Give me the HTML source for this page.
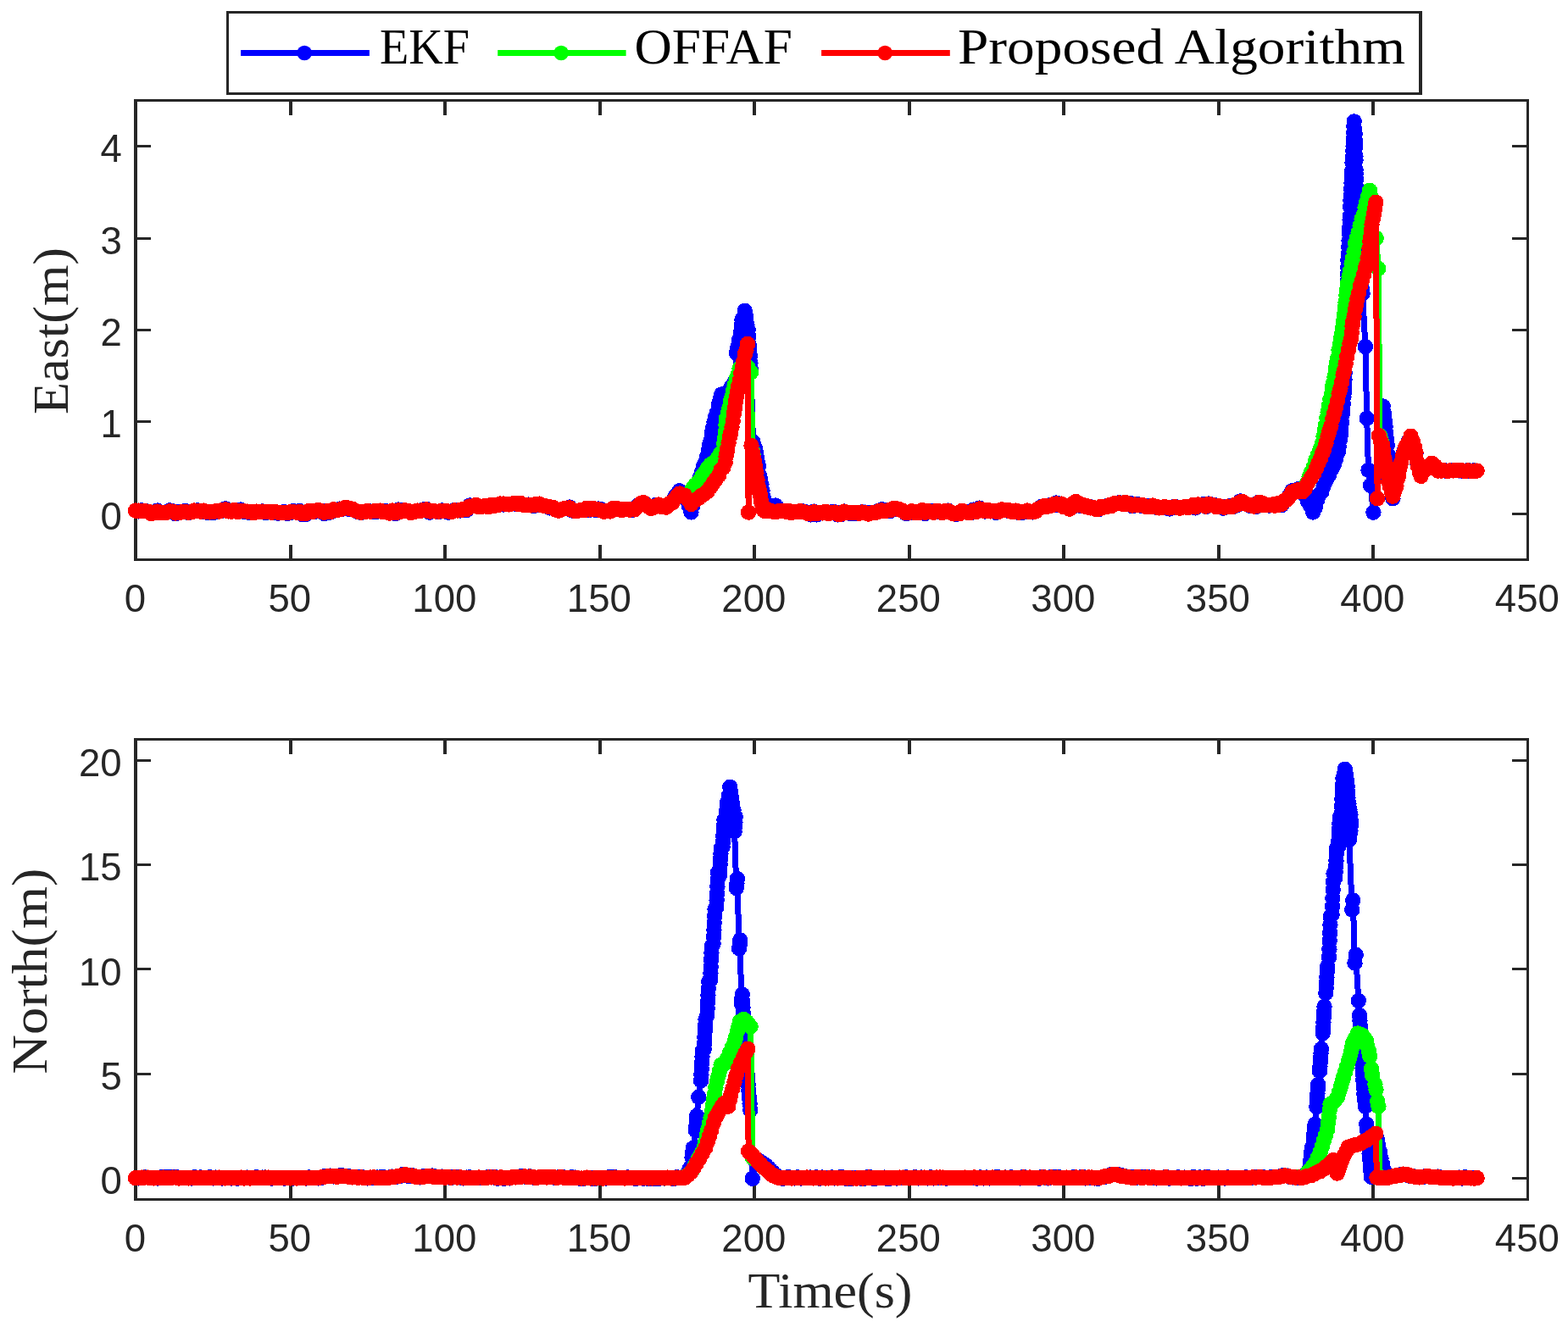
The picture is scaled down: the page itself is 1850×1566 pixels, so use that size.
<!DOCTYPE html>
<html lang="en">
<head>
<meta charset="utf-8">
<title>Position error comparison: EKF, OFFAF and Proposed Algorithm</title>
<style>
html,body{margin:0;padding:0;background:#ffffff;}
body{width:1850px;height:1566px;overflow:hidden;}
svg{display:block;}
.tk{font-family:"Liberation Sans",sans-serif;font-size:45.5px;fill:#262626;}
.lb{font-family:"Liberation Serif",serif;font-size:60px;fill:#262626;}
.lg{font-family:"Liberation Serif",serif;font-size:60px;fill:#000000;}
.ax{fill:#262626;}
.ln{fill:none;stroke-linejoin:round;stroke-linecap:butt;}
.mk{fill:none;stroke-linecap:round;}
</style>
</head>
<body>
<svg width="1850" height="1566" viewBox="0 0 1850 1566" role="img" aria-label="East and North position error over time for EKF, OFFAF and the Proposed Algorithm">
<rect x="0" y="0" width="1850" height="1566" fill="#ffffff"/>
<g id="axes-east">
<clipPath id="clipeast"><rect x="146" y="118.5" width="1670.5" height="542"/></clipPath>
<path class="ax" d="M158,117H1804V120H158ZM158,659H1804V662H158ZM158,117H162V662H158ZM1801,117H1804V662H1801ZM341,643H345V660.5H341ZM341,118.5H345V136H341ZM523,643H527V660.5H523ZM523,118.5H527V136H523ZM706,643H710V660.5H706ZM706,118.5H710V136H706ZM888,643H892V660.5H888ZM888,118.5H892V136H888ZM1071,643H1075V660.5H1071ZM1071,118.5H1075V136H1071ZM1253,643H1257V660.5H1253ZM1253,118.5H1257V136H1253ZM1436,643H1440V660.5H1436ZM1436,118.5H1440V136H1436ZM1618,643H1622V660.5H1618ZM1618,118.5H1622V136H1618ZM160,605H178V608H160ZM1784,605H1802.5V608H1784ZM160,496H178V499H160ZM1784,496H1802.5V499H1784ZM160,388H178V391H160ZM1784,388H1802.5V391H1784ZM160,280H178V283H160ZM1784,280H1802.5V283H1784ZM160,171H178V174H160ZM1784,171H1802.5V174H1784Z"/>
<text class="tk" x="159.3" y="721.8" text-anchor="middle">0</text><text class="tk" x="341.8" y="721.8" text-anchor="middle">50</text><text class="tk" x="524.3" y="721.8" text-anchor="middle">100</text><text class="tk" x="706.8" y="721.8" text-anchor="middle">150</text><text class="tk" x="889.3" y="721.8" text-anchor="middle">200</text><text class="tk" x="1071.8" y="721.8" text-anchor="middle">250</text><text class="tk" x="1254.3" y="721.8" text-anchor="middle">300</text><text class="tk" x="1436.8" y="721.8" text-anchor="middle">350</text><text class="tk" x="1619.3" y="721.8" text-anchor="middle">400</text><text class="tk" x="1801.8" y="721.8" text-anchor="middle">450</text>
<text class="tk" x="143.7" y="624.8" text-anchor="end">0</text><text class="tk" x="143.7" y="516.4" text-anchor="end">1</text><text class="tk" x="143.7" y="408" text-anchor="end">2</text><text class="tk" x="143.7" y="299.6" text-anchor="end">3</text><text class="tk" x="143.7" y="191.2" text-anchor="end">4</text>
<g clip-path="url(#clipeast)">
<g stroke="#0000ff" shape-rendering="crispEdges">
<polyline class="ln" stroke-width="7" points="160,602.6 163.7,603.4 167.3,602.3 170.9,603 174.6,603.6 178.2,605.8 181.9,605.2 185.6,602.5 189.2,605 192.8,604.9 196.5,604.7 200.2,602.3 203.8,603.2 207.4,606.3 211.1,604.1 214.8,604.1 218.4,603.1 222.1,604.9 225.7,604.4 229.3,603.5 233,602.4 236.7,603.7 240.3,602.6 243.9,604.6 247.6,605 251.2,605.2 254.9,603.6 258.6,603.5 262.2,602.6 265.9,600.3 269.5,603.2 273.1,603.5 276.8,602 280.4,603.1 284.1,601.5 287.8,603.8 291.4,603.6 295.1,605.1 298.7,604.8 302.4,603.6 306,604.1 309.6,603.4 313.3,605.1 316.9,604 320.6,603.8 324.2,605.1 327.9,605.7 331.6,605.2 335.2,604.1 338.9,605.9 342.5,605 346.1,603.1 349.8,604.7 353.4,603.1 357.1,607.2 360.8,607.1 364.4,604 368.1,604.1 371.7,603.8 375.4,603.2 379,602.7 382.6,606 386.3,603 389.9,604.6 393.6,601.9 397.2,602 400.9,600.6 404.6,600.5 408.2,598.7 411.9,600.8 415.5,600.6 419.1,602.5 422.8,604.3 426.4,604.9 430.1,604.1 433.8,603 437.4,603.5 441.1,604.3 444.7,603.8 448.4,603.2 452,604.1 455.6,603.3 459.3,604.6 462.9,603.6 466.6,606.2 470.2,601.5 473.9,603.6 477.6,603.3 481.2,603.4 484.9,603.9 488.5,603.7 492.1,603.1 495.8,603 499.4,601.5 503.1,601 506.8,604.6 510.4,603.3 514,603.5 517.7,604.1 521.4,602.4 525,603 528.6,604.7 532.3,603.9 536,602.1 539.6,602.5 543.2,602.5 546.9,600.7 550.5,601.9 554.2,596.4 557.9,597.4 561.5,596.9 565.1,598 568.8,597.8 572.5,597.1 576.1,597.5 579.8,596.7 583.4,596.4 587,596 590.4,595.5 593.8,595.5 597.1,595.1 600.5,595.2 603.8,594.6 607.1,594.5 610.3,595.2 613.5,593.7 616.7,595.6 619.9,596 623.2,595.6 626.5,596.3 629.8,597.1 633,595.1 636.3,594.6 639.4,596.2 642.4,597 645.5,597.6 648.9,599.4 652.3,599.7 655.7,601.7 659,601.8 662.2,601.3 665.5,600.3 668.8,599.6 672,598.6 675.2,602.6 678.4,603.1 681.6,602.7 685.1,602 688.6,601.9 692.1,600.2 695.6,601.8 699.1,599.8 702.5,601.7 706,600.6 709.4,601.3 712.8,603.2 716.3,602.7 719.9,603.4 723.6,600.2 727.2,599.8 730.4,601.3 733.5,601.5 736.7,600.9 739.7,600.7 742.7,601.6 745.7,601.7 748.7,601.4 752.3,596.6 755.8,595.2 759.3,593.1 762.2,595.4 765.2,597.8 768.1,599.8 771,598.1 773.9,596 776.9,595.5 779.8,597.5 782.7,597.3 785.6,598.7 788.2,596.1 790.7,594 793.3,593.3 796.1,586.8 798.9,583.2 801.7,579.2 804.8,583.1 807.9,584.6 810.4,590.4 813,597 815.5,604.5 817.2,596.9 818.9,592.5 820.6,584.6 822.5,576.9 824.3,571.6 826.1,563 828,557.5 830,550.4 832,546.1 834,539.2 836,531.5 837.3,524.7 838.6,520 839.9,510.7 841.2,504.3 842.5,497.9 844.3,491.6 846.1,486.7 847.8,477.8 849.6,471.4 851.3,465.4 853.7,464.9 856.1,465.4 859.3,461.8 862.6,456.7 865,454.9 867.4,449.1 868.8,416.6 870.4,409.5 872,401.3 873.6,397.1 874.2,391.7 874.8,383.6 875.4,377.6 877,374.7 878.7,366.7 880,374 881.4,383.3 882.7,389.5 883.2,397 883.8,407.2 884.3,411 884.9,420 885.4,428.5 886,436.1 888.5,521.7 890.7,528.3 891.7,533 892.7,539.3 893.6,544.5 894.9,550.5 896.1,561.5 897.3,566.2 898.4,571.7 899.5,579.1 900.6,586 901.7,591.1 903.1,594.6 904.6,599.8 907.3,599.8 910.1,600.9 912.4,597.3 914.8,596.5 917,598.9 919.2,603 922.9,602.7 926.5,603.6 930.1,603 933.6,604.3 937.2,604.3 940.7,604.1 944,603.1 947.2,603.3 950.5,604.3 953.7,606.1 956.9,607.4 960.2,603.6 963.4,607.4 966.6,605 970.3,604.6 974,604.8 977.6,605.5 981.2,604.3 984.9,604.3 988.5,607.5 992.2,607.1 995.9,603.5 999.5,605 1003,605.8 1006.6,605 1010.1,606.1 1013.6,605.1 1017.1,604.4 1020.7,604.6 1024.2,606.5 1027.7,604.9 1031.3,605 1034.3,604.5 1037.3,602.4 1040.3,601.2 1043.3,603 1047,602.3 1050.6,602.9 1054.2,600 1057.9,601.1 1061.5,601.2 1065.2,603 1068.7,605.8 1072.1,605.5 1075.6,603.8 1079.1,605 1082.1,605.1 1085.2,604.3 1088.3,603 1091.3,606 1094.4,603 1097.9,603.1 1101.5,603.5 1105,603 1108.4,603.9 1111.8,604.5 1115.3,603.6 1118.7,602.6 1122.1,605 1125.4,605.5 1128.6,606.8 1131.8,606.3 1135,603.5 1138.2,604.1 1141.7,603.8 1145.1,605.1 1148.6,601.6 1152.1,603.9 1155.5,599.6 1159,601.4 1162.3,603.5 1165.6,602.2 1168.9,603.1 1172.1,603 1175.4,604.9 1178.6,602.9 1181.8,601.4 1185,602.1 1188.3,602.5 1191.5,602.5 1194.9,604.3 1198.4,602.6 1201.8,604.9 1205.2,605.2 1208.6,603.6 1211.9,603.3 1215.2,604.3 1218.5,604.5 1221.8,603.6 1225.3,600.2 1228.8,597.9 1232.4,596.8 1235,597.4 1237.7,596.4 1240.4,596.5 1243.3,595.4 1246.2,593.5 1249.2,596.3 1252.1,594.6 1255.2,598.1 1258.4,598.5 1261.6,600.7 1264.1,599.2 1266.7,594.3 1269.2,592 1271.8,595 1274.3,596.7 1276.9,595.5 1280.1,597.6 1283.3,598.4 1286.5,598.3 1289.7,599.1 1293,600.9 1296,601.1 1299.1,598.6 1302.2,598.3 1305.2,597.2 1308.3,596.3 1311.2,595.9 1314.1,594.9 1317,594.4 1320.6,593.2 1324.1,594.6 1327.6,592.9 1330.5,595 1333.3,594 1336.1,597.2 1339,595.5 1342.1,595.2 1345.2,596.6 1348.3,597 1351.4,597.8 1354.3,597.1 1357.2,597.2 1360.1,596.5 1363.8,598.7 1367.4,598.6 1371.1,598.9 1374,598.8 1376.9,599.5 1379.8,600.5 1382.8,598.7 1385.8,597.8 1388.8,598.4 1391.8,599.6 1394.8,598.7 1398.1,598.1 1401.4,598.8 1404.7,597.6 1407.6,596.8 1410.5,599.3 1413.4,595.5 1416.3,596.3 1419.6,595.3 1422.9,597.9 1426.2,594.5 1429.5,596 1432.1,595.9 1434.8,597.4 1437.5,597.1 1440.3,597.8 1443.2,599.7 1446,598.2 1448.8,597.6 1451.7,597.1 1454.7,598 1457.6,595.5 1460.4,595.9 1463.2,591.4 1466,592.2 1469.1,594.5 1472.2,595.5 1475.6,597.1 1479.1,597.6 1482,597.8 1485,592.8 1487.9,593.3 1491,595.2 1494.1,595.5 1497.4,596.6 1500.6,595.5 1503.6,596.7 1506.5,595.6 1509.4,595.7 1512.2,596 1515,591.5 1517.8,590 1521.1,585.1 1524.4,579.2 1527,579.6 1529.7,578.8 1532.4,577 1536,580.1 1539.7,584.6 1542.9,591.3 1546,596.8 1549.2,604.5 1551.7,599.1 1554.3,590 1556.7,583.5 1559.2,580.8 1561.6,573.8 1564.9,566.5 1568.2,560.2 1571.5,553.2 1573.9,548.4 1576.3,541.1 1578.8,533.7 1579.7,527.4 1580.7,519.9 1581.7,514.2 1582.3,507.6 1583,498.6 1583.6,489.1 1584.2,483.8 1584.8,477 1585.4,468.3 1586.1,462.1 1586.3,455.6 1586.5,447.6 1586.7,439.8 1587,429.9 1587.2,422.8 1587.4,415.9 1587.7,409.1 1587.9,400.3 1588.1,392.5 1588.3,383.6 1588.5,377.7 1588.7,369.1 1588.9,360.6 1589.2,354.8 1589.4,345.9 1589.6,339.4 1589.8,331.8 1590,323.5 1590.2,315.4 1590.4,307.1 1590.8,300.1 1591.2,291.6 1591.5,284.3 1591.9,275.2 1592.3,268.5 1592.6,259.4 1592.9,254.9 1593.2,243.9 1593.5,236.6 1593.8,231 1594.1,223.2 1594.5,216.1 1594.8,208.3 1595.2,201.3 1595.5,191.9 1595.9,185.7 1596.3,178.1 1596.6,172.2 1596.9,164 1597.2,156.6 1597.4,149 1597.7,143.4 1598.2,153.2 1598.7,157.8 1599.2,167.3 1599.3,173.5 1599.4,184.3 1599.5,188.7 1599.6,200.1 1599.7,205.2 1600,211.6 1600.2,221 1600.4,229.6 1600.7,235.2 1600.9,244.3 1601.2,251.4 1601.4,259.4 1601.8,266.1 1602.2,274.1 1602.7,280.5 1603.1,287.1 1603.5,294.9 1603.9,302.8 1604.5,310.2 1605.2,317.1 1605.8,322 1606.4,329.5 1607,341.1 1607.6,346.1 1610.9,409 1612.7,493.6 1614.5,554.8 1617.1,572.7 1620.4,604.7 1625.5,562.9 1631.7,479.5 1632.4,485.8 1633.1,490.1 1633.9,497.3 1634.6,503.3 1635.3,511.3 1636.1,518.2 1636.8,525.7 1637.5,536.4 1638.2,541.3 1639.1,548.4 1640,557.7 1640.8,564.2 1641.7,572.6 1642.5,579.3 1643.4,588.3 1645.4,579.3 1647.4,573.8 1648.7,564.8 1650.1,561.6 1651.5,551.9 1652.8,546.7 1654.7,538.3 1656.5,532.6 1658.3,527.2 1661.4,521.4 1664.5,514.7 1666.9,521 1669.3,528.3 1670.5,534.6 1671.7,544.6 1672.9,549.9 1674.8,557.2 1676.6,561.9 1679.3,556.5 1682,554.3 1685.7,549.8 1689.3,546.7 1693,550.2 1696.7,555.6 1700.2,555.5 1703.7,555.1 1707.3,556 1710.8,555.4 1714.3,555.2 1717.9,555.1 1721.4,555.4 1725,555.6 1728.5,555.8 1732,555.2 1735.6,556 1739.1,555.4 1742.6,555.6"/>
<path class="mk" stroke-width="18.4" d="M160,602.6h0M163.7,603.4h0M167.3,602.3h0M170.9,603h0M174.6,603.6h0M178.2,605.8h0M181.9,605.2h0M185.6,602.5h0M189.2,605h0M192.8,604.9h0M196.5,604.7h0M200.2,602.3h0M203.8,603.2h0M207.4,606.3h0M211.1,604.1h0M214.8,604.1h0M218.4,603.1h0M222.1,604.9h0M225.7,604.4h0M229.3,603.5h0M233,602.4h0M236.7,603.7h0M240.3,602.6h0M243.9,604.6h0M247.6,605h0M251.2,605.2h0M254.9,603.6h0M258.6,603.5h0M262.2,602.6h0M265.9,600.3h0M269.5,603.2h0M273.1,603.5h0M276.8,602h0M280.4,603.1h0M284.1,601.5h0M287.8,603.8h0M291.4,603.6h0M295.1,605.1h0M298.7,604.8h0M302.4,603.6h0M306,604.1h0M309.6,603.4h0M313.3,605.1h0M316.9,604h0M320.6,603.8h0M324.2,605.1h0M327.9,605.7h0M331.6,605.2h0M335.2,604.1h0M338.9,605.9h0M342.5,605h0M346.1,603.1h0M349.8,604.7h0M353.4,603.1h0M357.1,607.2h0M360.8,607.1h0M364.4,604h0M368.1,604.1h0M371.7,603.8h0M375.4,603.2h0M379,602.7h0M382.6,606h0M386.3,603h0M389.9,604.6h0M393.6,601.9h0M397.2,602h0M400.9,600.6h0M404.6,600.5h0M408.2,598.7h0M411.9,600.8h0M415.5,600.6h0M419.1,602.5h0M422.8,604.3h0M426.4,604.9h0M430.1,604.1h0M433.8,603h0M437.4,603.5h0M441.1,604.3h0M444.7,603.8h0M448.4,603.2h0M452,604.1h0M455.6,603.3h0M459.3,604.6h0M462.9,603.6h0M466.6,606.2h0M470.2,601.5h0M473.9,603.6h0M477.6,603.3h0M481.2,603.4h0M484.9,603.9h0M488.5,603.7h0M492.1,603.1h0M495.8,603h0M499.4,601.5h0M503.1,601h0M506.8,604.6h0M510.4,603.3h0M514,603.5h0M517.7,604.1h0M521.4,602.4h0M525,603h0M528.6,604.7h0M532.3,603.9h0M536,602.1h0M539.6,602.5h0M543.2,602.5h0M546.9,600.7h0M550.5,601.9h0M554.2,596.4h0M557.9,597.4h0M561.5,596.9h0M565.1,598h0M568.8,597.8h0M572.5,597.1h0M576.1,597.5h0M579.8,596.7h0M583.4,596.4h0M587,596h0M590.4,595.5h0M593.8,595.5h0M597.1,595.1h0M600.5,595.2h0M603.8,594.6h0M607.1,594.5h0M610.3,595.2h0M613.5,593.7h0M616.7,595.6h0M619.9,596h0M623.2,595.6h0M626.5,596.3h0M629.8,597.1h0M633,595.1h0M636.3,594.6h0M639.4,596.2h0M642.4,597h0M645.5,597.6h0M648.9,599.4h0M652.3,599.7h0M655.7,601.7h0M659,601.8h0M662.2,601.3h0M665.5,600.3h0M668.8,599.6h0M672,598.6h0M675.2,602.6h0M678.4,603.1h0M681.6,602.7h0M685.1,602h0M688.6,601.9h0M692.1,600.2h0M695.6,601.8h0M699.1,599.8h0M702.5,601.7h0M706,600.6h0M709.4,601.3h0M712.8,603.2h0M716.3,602.7h0M719.9,603.4h0M723.6,600.2h0M727.2,599.8h0M730.4,601.3h0M733.5,601.5h0M736.7,600.9h0M739.7,600.7h0M742.7,601.6h0M745.7,601.7h0M748.7,601.4h0M752.3,596.6h0M755.8,595.2h0M759.3,593.1h0M762.2,595.4h0M765.2,597.8h0M768.1,599.8h0M771,598.1h0M773.9,596h0M776.9,595.5h0M779.8,597.5h0M782.7,597.3h0M785.6,598.7h0M788.2,596.1h0M790.7,594h0M793.3,593.3h0M796.1,586.8h0M798.9,583.2h0M801.7,579.2h0M804.8,583.1h0M807.9,584.6h0M810.4,590.4h0M813,597h0M815.5,604.5h0M817.2,596.9h0M818.9,592.5h0M820.6,584.6h0M822.5,576.9h0M824.3,571.6h0M826.1,563h0M828,557.5h0M830,550.4h0M832,546.1h0M834,539.2h0M836,531.5h0M837.3,524.7h0M838.6,520h0M839.9,510.7h0M841.2,504.3h0M842.5,497.9h0M844.3,491.6h0M846.1,486.7h0M847.8,477.8h0M849.6,471.4h0M851.3,465.4h0M853.7,464.9h0M856.1,465.4h0M859.3,461.8h0M862.6,456.7h0M865,454.9h0M867.4,449.1h0M868.8,416.6h0M870.4,409.5h0M872,401.3h0M873.6,397.1h0M874.2,391.7h0M874.8,383.6h0M875.4,377.6h0M877,374.7h0M878.7,366.7h0M880,374h0M881.4,383.3h0M882.7,389.5h0M883.2,397h0M883.8,407.2h0M884.3,411h0M884.9,420h0M885.4,428.5h0M886,436.1h0M888.5,521.7h0M890.7,528.3h0M891.7,533h0M892.7,539.3h0M893.6,544.5h0M894.9,550.5h0M896.1,561.5h0M897.3,566.2h0M898.4,571.7h0M899.5,579.1h0M900.6,586h0M901.7,591.1h0M903.1,594.6h0M904.6,599.8h0M907.3,599.8h0M910.1,600.9h0M912.4,597.3h0M914.8,596.5h0M917,598.9h0M919.2,603h0M922.9,602.7h0M926.5,603.6h0M930.1,603h0M933.6,604.3h0M937.2,604.3h0M940.7,604.1h0M944,603.1h0M947.2,603.3h0M950.5,604.3h0M953.7,606.1h0M956.9,607.4h0M960.2,603.6h0M963.4,607.4h0M966.6,605h0M970.3,604.6h0M974,604.8h0M977.6,605.5h0M981.2,604.3h0M984.9,604.3h0M988.5,607.5h0M992.2,607.1h0M995.9,603.5h0M999.5,605h0M1003,605.8h0M1006.6,605h0M1010.1,606.1h0M1013.6,605.1h0M1017.1,604.4h0M1020.7,604.6h0M1024.2,606.5h0M1027.7,604.9h0M1031.3,605h0M1034.3,604.5h0M1037.3,602.4h0M1040.3,601.2h0M1043.3,603h0M1047,602.3h0M1050.6,602.9h0M1054.2,600h0M1057.9,601.1h0M1061.5,601.2h0M1065.2,603h0M1068.7,605.8h0M1072.1,605.5h0M1075.6,603.8h0M1079.1,605h0M1082.1,605.1h0M1085.2,604.3h0M1088.3,603h0M1091.3,606h0M1094.4,603h0M1097.9,603.1h0M1101.5,603.5h0M1105,603h0M1108.4,603.9h0M1111.8,604.5h0M1115.3,603.6h0M1118.7,602.6h0M1122.1,605h0M1125.4,605.5h0M1128.6,606.8h0M1131.8,606.3h0M1135,603.5h0M1138.2,604.1h0M1141.7,603.8h0M1145.1,605.1h0M1148.6,601.6h0M1152.1,603.9h0M1155.5,599.6h0M1159,601.4h0M1162.3,603.5h0M1165.6,602.2h0M1168.9,603.1h0M1172.1,603h0M1175.4,604.9h0M1178.6,602.9h0M1181.8,601.4h0M1185,602.1h0M1188.3,602.5h0M1191.5,602.5h0M1194.9,604.3h0M1198.4,602.6h0M1201.8,604.9h0M1205.2,605.2h0M1208.6,603.6h0M1211.9,603.3h0M1215.2,604.3h0M1218.5,604.5h0M1221.8,603.6h0M1225.3,600.2h0M1228.8,597.9h0M1232.4,596.8h0M1235,597.4h0M1237.7,596.4h0M1240.4,596.5h0M1243.3,595.4h0M1246.2,593.5h0M1249.2,596.3h0M1252.1,594.6h0M1255.2,598.1h0M1258.4,598.5h0M1261.6,600.7h0M1264.1,599.2h0M1266.7,594.3h0M1269.2,592h0M1271.8,595h0M1274.3,596.7h0M1276.9,595.5h0M1280.1,597.6h0M1283.3,598.4h0M1286.5,598.3h0M1289.7,599.1h0M1293,600.9h0M1296,601.1h0M1299.1,598.6h0M1302.2,598.3h0M1305.2,597.2h0M1308.3,596.3h0M1311.2,595.9h0M1314.1,594.9h0M1317,594.4h0M1320.6,593.2h0M1324.1,594.6h0M1327.6,592.9h0M1330.5,595h0M1333.3,594h0M1336.1,597.2h0M1339,595.5h0M1342.1,595.2h0M1345.2,596.6h0M1348.3,597h0M1351.4,597.8h0M1354.3,597.1h0M1357.2,597.2h0M1360.1,596.5h0M1363.8,598.7h0M1367.4,598.6h0M1371.1,598.9h0M1374,598.8h0M1376.9,599.5h0M1379.8,600.5h0M1382.8,598.7h0M1385.8,597.8h0M1388.8,598.4h0M1391.8,599.6h0M1394.8,598.7h0M1398.1,598.1h0M1401.4,598.8h0M1404.7,597.6h0M1407.6,596.8h0M1410.5,599.3h0M1413.4,595.5h0M1416.3,596.3h0M1419.6,595.3h0M1422.9,597.9h0M1426.2,594.5h0M1429.5,596h0M1432.1,595.9h0M1434.8,597.4h0M1437.5,597.1h0M1440.3,597.8h0M1443.2,599.7h0M1446,598.2h0M1448.8,597.6h0M1451.7,597.1h0M1454.7,598h0M1457.6,595.5h0M1460.4,595.9h0M1463.2,591.4h0M1466,592.2h0M1469.1,594.5h0M1472.2,595.5h0M1475.6,597.1h0M1479.1,597.6h0M1482,597.8h0M1485,592.8h0M1487.9,593.3h0M1491,595.2h0M1494.1,595.5h0M1497.4,596.6h0M1500.6,595.5h0M1503.6,596.7h0M1506.5,595.6h0M1509.4,595.7h0M1512.2,596h0M1515,591.5h0M1517.8,590h0M1521.1,585.1h0M1524.4,579.2h0M1527,579.6h0M1529.7,578.8h0M1532.4,577h0M1536,580.1h0M1539.7,584.6h0M1542.9,591.3h0M1546,596.8h0M1549.2,604.5h0M1551.7,599.1h0M1554.3,590h0M1556.7,583.5h0M1559.2,580.8h0M1561.6,573.8h0M1564.9,566.5h0M1568.2,560.2h0M1571.5,553.2h0M1573.9,548.4h0M1576.3,541.1h0M1578.8,533.7h0M1579.7,527.4h0M1580.7,519.9h0M1581.7,514.2h0M1582.3,507.6h0M1583,498.6h0M1583.6,489.1h0M1584.2,483.8h0M1584.8,477h0M1585.4,468.3h0M1586.1,462.1h0M1586.3,455.6h0M1586.5,447.6h0M1586.7,439.8h0M1587,429.9h0M1587.2,422.8h0M1587.4,415.9h0M1587.7,409.1h0M1587.9,400.3h0M1588.1,392.5h0M1588.3,383.6h0M1588.5,377.7h0M1588.7,369.1h0M1588.9,360.6h0M1589.2,354.8h0M1589.4,345.9h0M1589.6,339.4h0M1589.8,331.8h0M1590,323.5h0M1590.2,315.4h0M1590.4,307.1h0M1590.8,300.1h0M1591.2,291.6h0M1591.5,284.3h0M1591.9,275.2h0M1592.3,268.5h0M1592.6,259.4h0M1592.9,254.9h0M1593.2,243.9h0M1593.5,236.6h0M1593.8,231h0M1594.1,223.2h0M1594.5,216.1h0M1594.8,208.3h0M1595.2,201.3h0M1595.5,191.9h0M1595.9,185.7h0M1596.3,178.1h0M1596.6,172.2h0M1596.9,164h0M1597.2,156.6h0M1597.4,149h0M1597.7,143.4h0M1598.2,153.2h0M1598.7,157.8h0M1599.2,167.3h0M1599.3,173.5h0M1599.4,184.3h0M1599.5,188.7h0M1599.6,200.1h0M1599.7,205.2h0M1600,211.6h0M1600.2,221h0M1600.4,229.6h0M1600.7,235.2h0M1600.9,244.3h0M1601.2,251.4h0M1601.4,259.4h0M1601.8,266.1h0M1602.2,274.1h0M1602.7,280.5h0M1603.1,287.1h0M1603.5,294.9h0M1603.9,302.8h0M1604.5,310.2h0M1605.2,317.1h0M1605.8,322h0M1606.4,329.5h0M1607,341.1h0M1607.6,346.1h0M1610.9,409h0M1612.7,493.6h0M1614.5,554.8h0M1617.1,572.7h0M1620.4,604.7h0M1625.5,562.9h0M1631.7,479.5h0M1632.4,485.8h0M1633.1,490.1h0M1633.9,497.3h0M1634.6,503.3h0M1635.3,511.3h0M1636.1,518.2h0M1636.8,525.7h0M1637.5,536.4h0M1638.2,541.3h0M1639.1,548.4h0M1640,557.7h0M1640.8,564.2h0M1641.7,572.6h0M1642.5,579.3h0M1643.4,588.3h0M1645.4,579.3h0M1647.4,573.8h0M1648.7,564.8h0M1650.1,561.6h0M1651.5,551.9h0M1652.8,546.7h0M1654.7,538.3h0M1656.5,532.6h0M1658.3,527.2h0M1661.4,521.4h0M1664.5,514.7h0M1666.9,521h0M1669.3,528.3h0M1670.5,534.6h0M1671.7,544.6h0M1672.9,549.9h0M1674.8,557.2h0M1676.6,561.9h0M1679.3,556.5h0M1682,554.3h0M1685.7,549.8h0M1689.3,546.7h0M1693,550.2h0M1696.7,555.6h0M1700.2,555.5h0M1703.7,555.1h0M1707.3,556h0M1710.8,555.4h0M1714.3,555.2h0M1717.9,555.1h0M1721.4,555.4h0M1725,555.6h0M1728.5,555.8h0M1732,555.2h0M1735.6,556h0M1739.1,555.4h0M1742.6,555.6h0"/>
</g>
<g stroke="#00ff00" shape-rendering="crispEdges">
<polyline class="ln" stroke-width="7" points="160,602.6 163.7,602.6 167.3,602.9 170.9,603 174.6,603.7 178.2,606 181.9,605.2 185.6,603.6 189.2,605 192.8,605.2 196.5,604.7 200.2,603.3 203.8,603.6 207.4,605.5 211.1,605.1 214.8,604.1 218.4,603.9 222.1,604.7 225.7,604.4 229.3,602.5 233,603.2 236.7,603.7 240.3,602.6 243.9,604 247.6,604.4 251.2,604 254.9,603.1 258.6,603.5 262.2,602.1 265.9,601.3 269.5,603.4 273.1,603.7 276.8,602 280.4,604 284.1,602.7 287.8,603.3 291.4,603.6 295.1,604.2 298.7,605.2 302.4,603.6 306,604.1 309.6,603.6 313.3,604.3 316.9,603.8 320.6,604.8 324.2,603.9 327.9,604.7 331.6,605.2 335.2,605.2 338.9,605.1 342.5,604.2 346.1,604.1 349.8,604.7 353.4,603.8 357.1,606.1 360.8,606 364.4,603 368.1,604.1 371.7,602.7 375.4,602.1 379,603.1 382.6,604.8 386.3,603 389.9,604 393.6,601.2 397.2,602 400.9,601.4 404.6,600.2 408.2,598.7 411.9,599.8 415.5,600.7 419.1,602.5 422.8,603.9 426.4,604.7 430.1,604.1 433.8,603 437.4,603.7 441.1,603.3 444.7,602.9 448.4,602.6 452,604.1 455.6,604.1 459.3,605.6 462.9,602.5 466.6,605.3 470.2,602.3 473.9,603.6 477.6,602.3 481.2,602.9 484.9,605 488.5,604.2 492.1,602.6 495.8,603 499.4,602 503.1,601.4 506.8,603.5 510.4,603.3 514,603.5 517.7,603.6 521.4,603.1 525,603 528.6,603.5 532.3,604.3 536,602.4 539.6,602.5 543.2,602.1 546.9,600.8 550.5,600.9 554.2,597.5 557.9,597.4 561.5,595.9 565.1,598.2 568.8,597.8 572.5,597.1 576.1,598.3 579.8,595.7 583.4,596.8 587,596 590.4,594.5 593.8,594.5 597.1,594.9 600.5,595.3 603.8,594.6 607.1,594 610.3,594.7 613.5,593.7 616.7,595.7 619.9,596 623.2,595.9 626.5,596.5 629.8,596.3 633,594.7 636.3,594.6 639.4,596.3 642.4,597 645.5,597.6 648.9,598.3 652.3,598.7 655.7,601.7 659,602.7 662.2,601.2 665.5,600.3 668.8,599.6 672,599.3 675.2,601.8 678.4,603.1 681.6,602.7 685.1,602.2 688.6,602.3 692.1,599.7 695.6,601.4 699.1,599.8 702.5,600.8 706,601.4 709.4,602.4 712.8,603.8 716.3,602.7 719.9,603.5 723.6,599.7 727.2,599.8 730.4,601.3 733.5,602 736.7,600.9 739.7,601 742.7,601.7 745.7,601.2 748.7,601.4 752.3,597.7 755.8,594.2 759.3,593.1 762.2,595.8 765.2,597.7 768.1,599.8 771,598.9 773.9,597.1 776.9,595.5 779.8,597.8 782.7,598.1 785.6,598.7 788.2,596.5 790.7,593.6 793.3,593.3 796.1,588.9 798.9,585.4 801.7,582.5 804.8,584.9 807.9,584.6 811.5,584.6 814.3,582.2 817,577 820,572.7 823,570 826,566.5 829,560.8 832.1,557.1 835.1,552.2 838.2,548.3 840.8,546.8 843.5,545 846.2,541.3 849.9,535.6 853.5,531.5 854.2,523.3 855,518 855.7,509.6 856.4,501.5 857.1,493.6 858.7,487.7 860.3,482 861.9,474.1 863.5,468.5 865.1,461.4 866.6,454.5 868.6,447.4 870.5,442.6 872.5,435 875.8,432.9 879,430.7 882.5,433.5 886,439.4 888,532.6 889,538.4 890,544.5 891.2,550.5 892.4,558.1 893.6,566.2 894.7,574 895.8,578.8 896.9,583.9 898,591.1 899.5,596.5 901,602 903.3,603.3 905.7,603 908.8,602.4 911.9,603.6 915.5,604 919.2,603 922.9,603.1 926.5,603.6 930.1,603 933.6,605.2 937.2,604 940.7,604.1 944,603.2 947.2,604 950.5,604.8 953.7,606 956.9,606.4 960.2,604.2 963.4,606.3 966.6,605 970.3,605.4 974,603.9 977.6,606.1 981.2,605.2 984.9,604.6 988.5,606.7 992.2,606.7 995.9,603.6 999.5,605 1003,604.7 1006.6,604.7 1010.1,605.2 1013.6,605.8 1017.1,604.5 1020.7,605.2 1024.2,606.6 1027.7,605.6 1031.3,605 1034.3,604.6 1037.3,602.9 1040.3,602.3 1043.3,603 1047,602.5 1050.6,602.1 1054.2,600 1057.9,600.3 1061.5,601.3 1065.2,603 1068.7,605.3 1072.1,604.8 1075.6,603.2 1079.1,605 1082.1,604.2 1085.2,604.9 1088.3,602.1 1091.3,604.8 1094.4,603 1097.9,604.3 1101.5,604.7 1105,603 1108.4,603.4 1111.8,605 1115.3,603.1 1118.7,603.1 1122.1,605 1125.4,606.4 1128.6,605.9 1131.8,606.2 1135,602.9 1138.2,604.1 1141.7,604.9 1145.1,604.8 1148.6,602.6 1152.1,603.8 1155.5,600.4 1159,601.4 1162.3,603.2 1165.6,601.8 1168.9,603.4 1172.1,603 1175.4,603.8 1178.6,603.8 1181.8,601.3 1185,602.2 1188.3,602.4 1191.5,602.5 1194.9,604.3 1198.4,602.6 1201.8,604.7 1205.2,604.3 1208.6,603.6 1211.9,602.5 1215.2,604.2 1218.5,604.1 1221.8,603.6 1225.3,600.4 1228.8,598.6 1232.4,596.8 1235,597.9 1237.7,597.4 1240.4,596.5 1243.3,595.1 1246.2,594.4 1249.2,595.4 1252.1,594.6 1255.2,598.3 1258.4,598.8 1261.6,600.7 1264.1,598.5 1266.7,593.7 1269.2,592 1271.8,594 1274.3,596 1276.9,595.5 1280.1,597.8 1283.3,597.4 1286.5,599.4 1289.7,598.9 1293,600.9 1296,600.7 1299.1,597.7 1302.2,598.6 1305.2,598.1 1308.3,596.3 1311.2,597 1314.1,594.4 1317,594.4 1320.6,593.4 1324.1,594.8 1327.6,592.9 1330.5,594.9 1333.3,595.1 1336.1,596.5 1339,595.5 1342.1,595.8 1345.2,596 1348.3,596.2 1351.4,597.8 1354.3,598.1 1357.2,598.2 1360.1,596.5 1363.8,597.8 1367.4,599.4 1371.1,598.9 1374,598.1 1376.9,598.6 1379.8,599.4 1382.8,598.7 1385.8,598.1 1388.8,598.9 1391.8,599.7 1394.8,598.7 1398.1,598.1 1401.4,599 1404.7,597.6 1407.6,596 1410.5,598.4 1413.4,595.4 1416.3,596.3 1419.6,596 1422.9,597.6 1426.2,594.9 1429.5,596 1432.1,596.3 1434.8,598.1 1437.5,597.1 1440.3,598.2 1443.2,598.6 1446,598.5 1448.8,597.6 1451.7,598.2 1454.7,597.7 1457.6,595.5 1460.4,595.2 1463.2,592.3 1466,592.2 1469.1,594.4 1472.2,595.5 1475.6,595.9 1479.1,597.6 1482,597.3 1485,593.1 1487.9,593.3 1491,596.1 1494.1,595.5 1497.4,596.3 1500.6,595.5 1503.6,596.7 1506.5,594.4 1509.4,595.7 1512.2,594.9 1515,591.1 1517.8,590 1521.1,586.3 1524.4,580.5 1526.6,580.7 1528.8,579.2 1531.5,578.3 1534.2,580.3 1537,580 1539.7,577 1542.1,570.1 1544.6,562.8 1547,557.5 1549.6,551.4 1552.3,543 1554.9,536.9 1557.5,530.2 1560.1,522.8 1561.5,515.4 1562.8,507.7 1564.1,501.7 1565.4,493 1566.7,486.5 1568,478.9 1569.3,471.3 1570.7,465.8 1572,456.9 1573.3,451.3 1574.5,444.7 1575.8,435.2 1577,428.3 1578.3,422.2 1579.5,413.1 1580.8,406.4 1582,399.8 1583,394.8 1584,387.7 1585,379.7 1585.8,372 1586.7,363.4 1587.5,356.8 1588.4,348.7 1589.2,341.4 1590.1,334.2 1591.6,326.6 1593.1,319.7 1594.6,311.5 1596.1,304.6 1597.6,297.1 1599.1,287.1 1600.7,281.1 1602.6,274.2 1604.6,266.3 1606.6,258.5 1608.5,253.9 1610.5,245.3 1612.3,238.4 1614.2,231.6 1616,224.7 1617,231.9 1618,237.1 1619,243.9 1620,248.6 1623.7,281.1 1626.2,316.9 1628,514.2 1629.5,519.4 1631,525 1632.2,531.8 1633.4,540.9 1634.6,546.7 1635.8,554.5 1637,559.7 1638.2,568.4 1640,574.3 1641.7,580.1 1643.4,585.7 1645.4,579.1 1647.4,573.8 1648.7,565.9 1650.1,560.9 1651.5,552.4 1652.8,546.7 1654.7,538.6 1656.5,533.6 1658.3,527.2 1661.4,522.3 1664.5,514.7 1666.9,521.3 1669.3,528.3 1670.5,534 1671.7,544.2 1672.9,549.9 1674.8,557.3 1676.6,561.9 1679.3,556.7 1682,554.3 1685.7,550.5 1689.3,546.7 1693,549.9 1696.7,555.6 1700.2,555.6 1703.7,555.2 1707.3,555.8 1710.8,555.4 1714.3,555.4 1717.9,555.3 1721.4,555.2 1725,555.4 1728.5,555.9 1732,555.3 1735.6,555.8 1739.1,555.6 1742.6,555.6"/>
<path class="mk" stroke-width="18.4" d="M160,602.6h0M163.7,602.6h0M167.3,602.9h0M170.9,603h0M174.6,603.7h0M178.2,606h0M181.9,605.2h0M185.6,603.6h0M189.2,605h0M192.8,605.2h0M196.5,604.7h0M200.2,603.3h0M203.8,603.6h0M207.4,605.5h0M211.1,605.1h0M214.8,604.1h0M218.4,603.9h0M222.1,604.7h0M225.7,604.4h0M229.3,602.5h0M233,603.2h0M236.7,603.7h0M240.3,602.6h0M243.9,604h0M247.6,604.4h0M251.2,604h0M254.9,603.1h0M258.6,603.5h0M262.2,602.1h0M265.9,601.3h0M269.5,603.4h0M273.1,603.7h0M276.8,602h0M280.4,604h0M284.1,602.7h0M287.8,603.3h0M291.4,603.6h0M295.1,604.2h0M298.7,605.2h0M302.4,603.6h0M306,604.1h0M309.6,603.6h0M313.3,604.3h0M316.9,603.8h0M320.6,604.8h0M324.2,603.9h0M327.9,604.7h0M331.6,605.2h0M335.2,605.2h0M338.9,605.1h0M342.5,604.2h0M346.1,604.1h0M349.8,604.7h0M353.4,603.8h0M357.1,606.1h0M360.8,606h0M364.4,603h0M368.1,604.1h0M371.7,602.7h0M375.4,602.1h0M379,603.1h0M382.6,604.8h0M386.3,603h0M389.9,604h0M393.6,601.2h0M397.2,602h0M400.9,601.4h0M404.6,600.2h0M408.2,598.7h0M411.9,599.8h0M415.5,600.7h0M419.1,602.5h0M422.8,603.9h0M426.4,604.7h0M430.1,604.1h0M433.8,603h0M437.4,603.7h0M441.1,603.3h0M444.7,602.9h0M448.4,602.6h0M452,604.1h0M455.6,604.1h0M459.3,605.6h0M462.9,602.5h0M466.6,605.3h0M470.2,602.3h0M473.9,603.6h0M477.6,602.3h0M481.2,602.9h0M484.9,605h0M488.5,604.2h0M492.1,602.6h0M495.8,603h0M499.4,602h0M503.1,601.4h0M506.8,603.5h0M510.4,603.3h0M514,603.5h0M517.7,603.6h0M521.4,603.1h0M525,603h0M528.6,603.5h0M532.3,604.3h0M536,602.4h0M539.6,602.5h0M543.2,602.1h0M546.9,600.8h0M550.5,600.9h0M554.2,597.5h0M557.9,597.4h0M561.5,595.9h0M565.1,598.2h0M568.8,597.8h0M572.5,597.1h0M576.1,598.3h0M579.8,595.7h0M583.4,596.8h0M587,596h0M590.4,594.5h0M593.8,594.5h0M597.1,594.9h0M600.5,595.3h0M603.8,594.6h0M607.1,594h0M610.3,594.7h0M613.5,593.7h0M616.7,595.7h0M619.9,596h0M623.2,595.9h0M626.5,596.5h0M629.8,596.3h0M633,594.7h0M636.3,594.6h0M639.4,596.3h0M642.4,597h0M645.5,597.6h0M648.9,598.3h0M652.3,598.7h0M655.7,601.7h0M659,602.7h0M662.2,601.2h0M665.5,600.3h0M668.8,599.6h0M672,599.3h0M675.2,601.8h0M678.4,603.1h0M681.6,602.7h0M685.1,602.2h0M688.6,602.3h0M692.1,599.7h0M695.6,601.4h0M699.1,599.8h0M702.5,600.8h0M706,601.4h0M709.4,602.4h0M712.8,603.8h0M716.3,602.7h0M719.9,603.5h0M723.6,599.7h0M727.2,599.8h0M730.4,601.3h0M733.5,602h0M736.7,600.9h0M739.7,601h0M742.7,601.7h0M745.7,601.2h0M748.7,601.4h0M752.3,597.7h0M755.8,594.2h0M759.3,593.1h0M762.2,595.8h0M765.2,597.7h0M768.1,599.8h0M771,598.9h0M773.9,597.1h0M776.9,595.5h0M779.8,597.8h0M782.7,598.1h0M785.6,598.7h0M788.2,596.5h0M790.7,593.6h0M793.3,593.3h0M796.1,588.9h0M798.9,585.4h0M801.7,582.5h0M804.8,584.9h0M807.9,584.6h0M811.5,584.6h0M814.3,582.2h0M817,577h0M820,572.7h0M823,570h0M826,566.5h0M829,560.8h0M832.1,557.1h0M835.1,552.2h0M838.2,548.3h0M840.8,546.8h0M843.5,545h0M846.2,541.3h0M849.9,535.6h0M853.5,531.5h0M854.2,523.3h0M855,518h0M855.7,509.6h0M856.4,501.5h0M857.1,493.6h0M858.7,487.7h0M860.3,482h0M861.9,474.1h0M863.5,468.5h0M865.1,461.4h0M866.6,454.5h0M868.6,447.4h0M870.5,442.6h0M872.5,435h0M875.8,432.9h0M879,430.7h0M882.5,433.5h0M886,439.4h0M888,532.6h0M889,538.4h0M890,544.5h0M891.2,550.5h0M892.4,558.1h0M893.6,566.2h0M894.7,574h0M895.8,578.8h0M896.9,583.9h0M898,591.1h0M899.5,596.5h0M901,602h0M903.3,603.3h0M905.7,603h0M908.8,602.4h0M911.9,603.6h0M915.5,604h0M919.2,603h0M922.9,603.1h0M926.5,603.6h0M930.1,603h0M933.6,605.2h0M937.2,604h0M940.7,604.1h0M944,603.2h0M947.2,604h0M950.5,604.8h0M953.7,606h0M956.9,606.4h0M960.2,604.2h0M963.4,606.3h0M966.6,605h0M970.3,605.4h0M974,603.9h0M977.6,606.1h0M981.2,605.2h0M984.9,604.6h0M988.5,606.7h0M992.2,606.7h0M995.9,603.6h0M999.5,605h0M1003,604.7h0M1006.6,604.7h0M1010.1,605.2h0M1013.6,605.8h0M1017.1,604.5h0M1020.7,605.2h0M1024.2,606.6h0M1027.7,605.6h0M1031.3,605h0M1034.3,604.6h0M1037.3,602.9h0M1040.3,602.3h0M1043.3,603h0M1047,602.5h0M1050.6,602.1h0M1054.2,600h0M1057.9,600.3h0M1061.5,601.3h0M1065.2,603h0M1068.7,605.3h0M1072.1,604.8h0M1075.6,603.2h0M1079.1,605h0M1082.1,604.2h0M1085.2,604.9h0M1088.3,602.1h0M1091.3,604.8h0M1094.4,603h0M1097.9,604.3h0M1101.5,604.7h0M1105,603h0M1108.4,603.4h0M1111.8,605h0M1115.3,603.1h0M1118.7,603.1h0M1122.1,605h0M1125.4,606.4h0M1128.6,605.9h0M1131.8,606.2h0M1135,602.9h0M1138.2,604.1h0M1141.7,604.9h0M1145.1,604.8h0M1148.6,602.6h0M1152.1,603.8h0M1155.5,600.4h0M1159,601.4h0M1162.3,603.2h0M1165.6,601.8h0M1168.9,603.4h0M1172.1,603h0M1175.4,603.8h0M1178.6,603.8h0M1181.8,601.3h0M1185,602.2h0M1188.3,602.4h0M1191.5,602.5h0M1194.9,604.3h0M1198.4,602.6h0M1201.8,604.7h0M1205.2,604.3h0M1208.6,603.6h0M1211.9,602.5h0M1215.2,604.2h0M1218.5,604.1h0M1221.8,603.6h0M1225.3,600.4h0M1228.8,598.6h0M1232.4,596.8h0M1235,597.9h0M1237.7,597.4h0M1240.4,596.5h0M1243.3,595.1h0M1246.2,594.4h0M1249.2,595.4h0M1252.1,594.6h0M1255.2,598.3h0M1258.4,598.8h0M1261.6,600.7h0M1264.1,598.5h0M1266.7,593.7h0M1269.2,592h0M1271.8,594h0M1274.3,596h0M1276.9,595.5h0M1280.1,597.8h0M1283.3,597.4h0M1286.5,599.4h0M1289.7,598.9h0M1293,600.9h0M1296,600.7h0M1299.1,597.7h0M1302.2,598.6h0M1305.2,598.1h0M1308.3,596.3h0M1311.2,597h0M1314.1,594.4h0M1317,594.4h0M1320.6,593.4h0M1324.1,594.8h0M1327.6,592.9h0M1330.5,594.9h0M1333.3,595.1h0M1336.1,596.5h0M1339,595.5h0M1342.1,595.8h0M1345.2,596h0M1348.3,596.2h0M1351.4,597.8h0M1354.3,598.1h0M1357.2,598.2h0M1360.1,596.5h0M1363.8,597.8h0M1367.4,599.4h0M1371.1,598.9h0M1374,598.1h0M1376.9,598.6h0M1379.8,599.4h0M1382.8,598.7h0M1385.8,598.1h0M1388.8,598.9h0M1391.8,599.7h0M1394.8,598.7h0M1398.1,598.1h0M1401.4,599h0M1404.7,597.6h0M1407.6,596h0M1410.5,598.4h0M1413.4,595.4h0M1416.3,596.3h0M1419.6,596h0M1422.9,597.6h0M1426.2,594.9h0M1429.5,596h0M1432.1,596.3h0M1434.8,598.1h0M1437.5,597.1h0M1440.3,598.2h0M1443.2,598.6h0M1446,598.5h0M1448.8,597.6h0M1451.7,598.2h0M1454.7,597.7h0M1457.6,595.5h0M1460.4,595.2h0M1463.2,592.3h0M1466,592.2h0M1469.1,594.4h0M1472.2,595.5h0M1475.6,595.9h0M1479.1,597.6h0M1482,597.3h0M1485,593.1h0M1487.9,593.3h0M1491,596.1h0M1494.1,595.5h0M1497.4,596.3h0M1500.6,595.5h0M1503.6,596.7h0M1506.5,594.4h0M1509.4,595.7h0M1512.2,594.9h0M1515,591.1h0M1517.8,590h0M1521.1,586.3h0M1524.4,580.5h0M1526.6,580.7h0M1528.8,579.2h0M1531.5,578.3h0M1534.2,580.3h0M1537,580h0M1539.7,577h0M1542.1,570.1h0M1544.6,562.8h0M1547,557.5h0M1549.6,551.4h0M1552.3,543h0M1554.9,536.9h0M1557.5,530.2h0M1560.1,522.8h0M1561.5,515.4h0M1562.8,507.7h0M1564.1,501.7h0M1565.4,493h0M1566.7,486.5h0M1568,478.9h0M1569.3,471.3h0M1570.7,465.8h0M1572,456.9h0M1573.3,451.3h0M1574.5,444.7h0M1575.8,435.2h0M1577,428.3h0M1578.3,422.2h0M1579.5,413.1h0M1580.8,406.4h0M1582,399.8h0M1583,394.8h0M1584,387.7h0M1585,379.7h0M1585.8,372h0M1586.7,363.4h0M1587.5,356.8h0M1588.4,348.7h0M1589.2,341.4h0M1590.1,334.2h0M1591.6,326.6h0M1593.1,319.7h0M1594.6,311.5h0M1596.1,304.6h0M1597.6,297.1h0M1599.1,287.1h0M1600.7,281.1h0M1602.6,274.2h0M1604.6,266.3h0M1606.6,258.5h0M1608.5,253.9h0M1610.5,245.3h0M1612.3,238.4h0M1614.2,231.6h0M1616,224.7h0M1617,231.9h0M1618,237.1h0M1619,243.9h0M1620,248.6h0M1623.7,281.1h0M1626.2,316.9h0M1628,514.2h0M1629.5,519.4h0M1631,525h0M1632.2,531.8h0M1633.4,540.9h0M1634.6,546.7h0M1635.8,554.5h0M1637,559.7h0M1638.2,568.4h0M1640,574.3h0M1641.7,580.1h0M1643.4,585.7h0M1645.4,579.1h0M1647.4,573.8h0M1648.7,565.9h0M1650.1,560.9h0M1651.5,552.4h0M1652.8,546.7h0M1654.7,538.6h0M1656.5,533.6h0M1658.3,527.2h0M1661.4,522.3h0M1664.5,514.7h0M1666.9,521.3h0M1669.3,528.3h0M1670.5,534h0M1671.7,544.2h0M1672.9,549.9h0M1674.8,557.3h0M1676.6,561.9h0M1679.3,556.7h0M1682,554.3h0M1685.7,550.5h0M1689.3,546.7h0M1693,549.9h0M1696.7,555.6h0M1700.2,555.6h0M1703.7,555.2h0M1707.3,555.8h0M1710.8,555.4h0M1714.3,555.4h0M1717.9,555.3h0M1721.4,555.2h0M1725,555.4h0M1728.5,555.9h0M1732,555.3h0M1735.6,555.8h0M1739.1,555.6h0M1742.6,555.6h0"/>
</g>
<g stroke="#ff0000" shape-rendering="crispEdges">
<polyline class="ln" stroke-width="7" points="160,602.6 163.7,602.6 167.3,602.9 170.9,603 174.6,603.7 178.2,606 181.9,605.2 185.6,603.6 189.2,605 192.8,605.2 196.5,604.7 200.2,603.3 203.8,603.6 207.4,605.5 211.1,605.1 214.8,604.1 218.4,603.9 222.1,604.7 225.7,604.4 229.3,602.5 233,603.2 236.7,603.7 240.3,602.6 243.9,604 247.6,604.4 251.2,604 254.9,603.1 258.6,603.5 262.2,602.1 265.9,601.3 269.5,603.4 273.1,603.7 276.8,602 280.4,604 284.1,602.7 287.8,603.3 291.4,603.6 295.1,604.2 298.7,605.2 302.4,603.6 306,604.1 309.6,603.6 313.3,604.3 316.9,603.8 320.6,604.8 324.2,603.9 327.9,604.7 331.6,605.2 335.2,605.2 338.9,605.1 342.5,604.2 346.1,604.1 349.8,604.7 353.4,603.8 357.1,606.1 360.8,606 364.4,603 368.1,604.1 371.7,602.7 375.4,602.1 379,603.1 382.6,604.8 386.3,603 389.9,604 393.6,601.2 397.2,602 400.9,601.4 404.6,600.2 408.2,598.7 411.9,599.8 415.5,600.7 419.1,602.5 422.8,603.9 426.4,604.7 430.1,604.1 433.8,603 437.4,603.7 441.1,603.3 444.7,602.9 448.4,602.6 452,604.1 455.6,604.1 459.3,605.6 462.9,602.5 466.6,605.3 470.2,602.3 473.9,603.6 477.6,602.3 481.2,602.9 484.9,605 488.5,604.2 492.1,602.6 495.8,603 499.4,602 503.1,601.4 506.8,603.5 510.4,603.3 514,603.5 517.7,603.6 521.4,603.1 525,603 528.6,603.5 532.3,604.3 536,602.4 539.6,602.5 543.2,602.1 546.9,600.8 550.5,600.9 554.2,597.5 557.9,597.4 561.5,595.9 565.1,598.2 568.8,597.8 572.5,597.1 576.1,598.3 579.8,595.7 583.4,596.8 587,596 590.4,594.5 593.8,594.5 597.1,594.9 600.5,595.3 603.8,594.6 607.1,594 610.3,594.7 613.5,593.7 616.7,595.7 619.9,596 623.2,595.9 626.5,596.5 629.8,596.3 633,594.7 636.3,594.6 639.4,596.3 642.4,597 645.5,597.6 648.9,598.3 652.3,598.7 655.7,601.7 659,602.7 662.2,601.2 665.5,600.3 668.8,599.6 672,599.3 675.2,601.8 678.4,603.1 681.6,602.7 685.1,602.2 688.6,602.3 692.1,599.7 695.6,601.4 699.1,599.8 702.5,600.8 706,601.4 709.4,602.4 712.8,603.8 716.3,602.7 719.9,603.5 723.6,599.7 727.2,599.8 730.4,601.3 733.5,602 736.7,600.9 739.7,601 742.7,601.7 745.7,601.2 748.7,601.4 752.3,597.7 755.8,594.2 759.3,593.1 762.2,595.8 765.2,597.7 768.1,599.8 771,598.9 773.9,597.1 776.9,595.5 779.8,597.8 782.7,598.1 785.6,598.7 788.2,596.5 790.7,593.6 793.3,593.3 796.1,588.9 798.9,585.4 801.7,582.5 804.8,584.9 807.9,584.6 810.4,588.3 813,590.6 815.5,594.9 818.5,591.5 821.4,589.6 824.3,587.9 827.8,584.8 831.3,582.6 834.8,579.8 838.4,574.9 841.6,569.9 844.8,565.6 848,561.3 850.6,554.6 853.1,552.2 855.7,545.9 856.5,539.2 857.4,534.3 858.2,529.9 859.6,522.7 860.9,515.6 862.3,510.7 863.5,504 864.7,496.7 865.9,487.7 866.9,482.1 867.8,474.3 868.8,468.5 869.7,462.8 871.2,455.9 872.7,449.1 874.2,440.4 875.7,434.2 877.2,426.4 878.8,418.3 880.4,413.3 882,406 883.1,604.6 886.5,525.8 887.7,533.4 888.8,539.3 890,544.5 891.2,550.5 892.4,558.1 893.6,566.2 894.7,574 895.8,578.8 896.9,583.9 898,591.1 899.5,596.5 901,602 903.3,603.3 905.7,603 908.8,602.4 911.9,603.6 915.5,604 919.2,603 922.9,603.1 926.5,603.6 930.1,603 933.6,605.2 937.2,604 940.7,604.1 944,603.2 947.2,604 950.5,604.8 953.7,606 956.9,606.4 960.2,604.2 963.4,606.3 966.6,605 970.3,605.4 974,603.9 977.6,606.1 981.2,605.2 984.9,604.6 988.5,606.7 992.2,606.7 995.9,603.6 999.5,605 1003,604.7 1006.6,604.7 1010.1,605.2 1013.6,605.8 1017.1,604.5 1020.7,605.2 1024.2,606.6 1027.7,605.6 1031.3,605 1034.3,604.6 1037.3,602.9 1040.3,602.3 1043.3,603 1047,602.5 1050.6,602.1 1054.2,600 1057.9,600.3 1061.5,601.3 1065.2,603 1068.7,605.3 1072.1,604.8 1075.6,603.2 1079.1,605 1082.1,604.2 1085.2,604.9 1088.3,602.1 1091.3,604.8 1094.4,603 1097.9,604.3 1101.5,604.7 1105,603 1108.4,603.4 1111.8,605 1115.3,603.1 1118.7,603.1 1122.1,605 1125.4,606.4 1128.6,605.9 1131.8,606.2 1135,602.9 1138.2,604.1 1141.7,604.9 1145.1,604.8 1148.6,602.6 1152.1,603.8 1155.5,600.4 1159,601.4 1162.3,603.2 1165.6,601.8 1168.9,603.4 1172.1,603 1175.4,603.8 1178.6,603.8 1181.8,601.3 1185,602.2 1188.3,602.4 1191.5,602.5 1194.9,604.3 1198.4,602.6 1201.8,604.7 1205.2,604.3 1208.6,603.6 1211.9,602.5 1215.2,604.2 1218.5,604.1 1221.8,603.6 1225.3,600.4 1228.8,598.6 1232.4,596.8 1235,597.9 1237.7,597.4 1240.4,596.5 1243.3,595.1 1246.2,594.4 1249.2,595.4 1252.1,594.6 1255.2,598.3 1258.4,598.8 1261.6,600.7 1264.1,598.5 1266.7,593.7 1269.2,592 1271.8,594 1274.3,596 1276.9,595.5 1280.1,597.8 1283.3,597.4 1286.5,599.4 1289.7,598.9 1293,600.9 1296,600.7 1299.1,597.7 1302.2,598.6 1305.2,598.1 1308.3,596.3 1311.2,597 1314.1,594.4 1317,594.4 1320.6,593.4 1324.1,594.8 1327.6,592.9 1330.5,594.9 1333.3,595.1 1336.1,596.5 1339,595.5 1342.1,595.8 1345.2,596 1348.3,596.2 1351.4,597.8 1354.3,598.1 1357.2,598.2 1360.1,596.5 1363.8,597.8 1367.4,599.4 1371.1,598.9 1374,598.1 1376.9,598.6 1379.8,599.4 1382.8,598.7 1385.8,598.1 1388.8,598.9 1391.8,599.7 1394.8,598.7 1398.1,598.1 1401.4,599 1404.7,597.6 1407.6,596 1410.5,598.4 1413.4,595.4 1416.3,596.3 1419.6,596 1422.9,597.6 1426.2,594.9 1429.5,596 1432.1,596.3 1434.8,598.1 1437.5,597.1 1440.3,598.2 1443.2,598.6 1446,598.5 1448.8,597.6 1451.7,598.2 1454.7,597.7 1457.6,595.5 1460.4,595.2 1463.2,592.3 1466,592.2 1469.1,594.4 1472.2,595.5 1475.6,595.9 1479.1,597.6 1482,597.3 1485,593.1 1487.9,593.3 1491,596.1 1494.1,595.5 1497.4,596.3 1500.6,595.5 1503.6,596.7 1506.5,594.4 1509.4,595.7 1512.2,594.9 1515,591.1 1517.8,590 1521.1,586.3 1524.4,580.5 1526.6,580.7 1528.8,579.2 1531.5,578.3 1534.2,580.3 1537,580 1539.7,577 1543.2,569.6 1546.8,564 1550.3,558.6 1552.8,553.3 1555.4,546.8 1558,541.3 1560.1,535.1 1562.3,530.4 1564.5,522.8 1566.5,515.2 1568.5,508.3 1570.4,502.5 1572.4,494.1 1574.4,487.1 1576.1,480.8 1577.9,473.5 1579.6,464.9 1581.4,458.5 1583.1,451.3 1584.7,442.5 1586.2,436.8 1587.7,429.5 1589.3,420.6 1590.8,413.3 1592.4,405.3 1594.1,399.8 1594.8,392.5 1595.5,384.9 1596.3,379.7 1597.6,373.2 1598.8,365.7 1600.1,359.8 1601.4,352.6 1603.3,345.2 1605.2,336.9 1607.1,330.8 1609,324.1 1610.9,316.9 1612.2,312.5 1613.6,304.7 1614.9,299.5 1615.6,293 1616.3,284.9 1617.1,279.9 1617.8,271.6 1618.5,264.8 1619.7,258.9 1620.9,253.2 1622.1,246 1623.3,238.8 1625.1,588.3 1626.9,514.2 1628.9,520.2 1631,525 1632.2,531.8 1633.4,540.9 1634.6,546.7 1635.8,554.5 1637,559.7 1638.2,568.4 1640,574.3 1641.7,580.1 1643.4,585.7 1645.4,579.1 1647.4,573.8 1648.7,565.9 1650.1,560.9 1651.5,552.4 1652.8,546.7 1654.7,538.6 1656.5,533.6 1658.3,527.2 1661.4,522.3 1664.5,514.7 1666.9,521.3 1669.3,528.3 1670.5,534 1671.7,544.2 1672.9,549.9 1674.8,557.3 1676.6,561.9 1679.3,556.7 1682,554.3 1685.7,550.5 1689.3,546.7 1693,549.9 1696.7,555.6 1700.2,555.6 1703.7,555.2 1707.3,555.8 1710.8,555.4 1714.3,555.4 1717.9,555.3 1721.4,555.2 1725,555.4 1728.5,555.9 1732,555.3 1735.6,555.8 1739.1,555.6 1742.6,555.6"/>
<path class="mk" stroke-width="18.4" d="M160,602.6h0M163.7,602.6h0M167.3,602.9h0M170.9,603h0M174.6,603.7h0M178.2,606h0M181.9,605.2h0M185.6,603.6h0M189.2,605h0M192.8,605.2h0M196.5,604.7h0M200.2,603.3h0M203.8,603.6h0M207.4,605.5h0M211.1,605.1h0M214.8,604.1h0M218.4,603.9h0M222.1,604.7h0M225.7,604.4h0M229.3,602.5h0M233,603.2h0M236.7,603.7h0M240.3,602.6h0M243.9,604h0M247.6,604.4h0M251.2,604h0M254.9,603.1h0M258.6,603.5h0M262.2,602.1h0M265.9,601.3h0M269.5,603.4h0M273.1,603.7h0M276.8,602h0M280.4,604h0M284.1,602.7h0M287.8,603.3h0M291.4,603.6h0M295.1,604.2h0M298.7,605.2h0M302.4,603.6h0M306,604.1h0M309.6,603.6h0M313.3,604.3h0M316.9,603.8h0M320.6,604.8h0M324.2,603.9h0M327.9,604.7h0M331.6,605.2h0M335.2,605.2h0M338.9,605.1h0M342.5,604.2h0M346.1,604.1h0M349.8,604.7h0M353.4,603.8h0M357.1,606.1h0M360.8,606h0M364.4,603h0M368.1,604.1h0M371.7,602.7h0M375.4,602.1h0M379,603.1h0M382.6,604.8h0M386.3,603h0M389.9,604h0M393.6,601.2h0M397.2,602h0M400.9,601.4h0M404.6,600.2h0M408.2,598.7h0M411.9,599.8h0M415.5,600.7h0M419.1,602.5h0M422.8,603.9h0M426.4,604.7h0M430.1,604.1h0M433.8,603h0M437.4,603.7h0M441.1,603.3h0M444.7,602.9h0M448.4,602.6h0M452,604.1h0M455.6,604.1h0M459.3,605.6h0M462.9,602.5h0M466.6,605.3h0M470.2,602.3h0M473.9,603.6h0M477.6,602.3h0M481.2,602.9h0M484.9,605h0M488.5,604.2h0M492.1,602.6h0M495.8,603h0M499.4,602h0M503.1,601.4h0M506.8,603.5h0M510.4,603.3h0M514,603.5h0M517.7,603.6h0M521.4,603.1h0M525,603h0M528.6,603.5h0M532.3,604.3h0M536,602.4h0M539.6,602.5h0M543.2,602.1h0M546.9,600.8h0M550.5,600.9h0M554.2,597.5h0M557.9,597.4h0M561.5,595.9h0M565.1,598.2h0M568.8,597.8h0M572.5,597.1h0M576.1,598.3h0M579.8,595.7h0M583.4,596.8h0M587,596h0M590.4,594.5h0M593.8,594.5h0M597.1,594.9h0M600.5,595.3h0M603.8,594.6h0M607.1,594h0M610.3,594.7h0M613.5,593.7h0M616.7,595.7h0M619.9,596h0M623.2,595.9h0M626.5,596.5h0M629.8,596.3h0M633,594.7h0M636.3,594.6h0M639.4,596.3h0M642.4,597h0M645.5,597.6h0M648.9,598.3h0M652.3,598.7h0M655.7,601.7h0M659,602.7h0M662.2,601.2h0M665.5,600.3h0M668.8,599.6h0M672,599.3h0M675.2,601.8h0M678.4,603.1h0M681.6,602.7h0M685.1,602.2h0M688.6,602.3h0M692.1,599.7h0M695.6,601.4h0M699.1,599.8h0M702.5,600.8h0M706,601.4h0M709.4,602.4h0M712.8,603.8h0M716.3,602.7h0M719.9,603.5h0M723.6,599.7h0M727.2,599.8h0M730.4,601.3h0M733.5,602h0M736.7,600.9h0M739.7,601h0M742.7,601.7h0M745.7,601.2h0M748.7,601.4h0M752.3,597.7h0M755.8,594.2h0M759.3,593.1h0M762.2,595.8h0M765.2,597.7h0M768.1,599.8h0M771,598.9h0M773.9,597.1h0M776.9,595.5h0M779.8,597.8h0M782.7,598.1h0M785.6,598.7h0M788.2,596.5h0M790.7,593.6h0M793.3,593.3h0M796.1,588.9h0M798.9,585.4h0M801.7,582.5h0M804.8,584.9h0M807.9,584.6h0M810.4,588.3h0M813,590.6h0M815.5,594.9h0M818.5,591.5h0M821.4,589.6h0M824.3,587.9h0M827.8,584.8h0M831.3,582.6h0M834.8,579.8h0M838.4,574.9h0M841.6,569.9h0M844.8,565.6h0M848,561.3h0M850.6,554.6h0M853.1,552.2h0M855.7,545.9h0M856.5,539.2h0M857.4,534.3h0M858.2,529.9h0M859.6,522.7h0M860.9,515.6h0M862.3,510.7h0M863.5,504h0M864.7,496.7h0M865.9,487.7h0M866.9,482.1h0M867.8,474.3h0M868.8,468.5h0M869.7,462.8h0M871.2,455.9h0M872.7,449.1h0M874.2,440.4h0M875.7,434.2h0M877.2,426.4h0M878.8,418.3h0M880.4,413.3h0M882,406h0M883.1,604.6h0M886.5,525.8h0M887.7,533.4h0M888.8,539.3h0M890,544.5h0M891.2,550.5h0M892.4,558.1h0M893.6,566.2h0M894.7,574h0M895.8,578.8h0M896.9,583.9h0M898,591.1h0M899.5,596.5h0M901,602h0M903.3,603.3h0M905.7,603h0M908.8,602.4h0M911.9,603.6h0M915.5,604h0M919.2,603h0M922.9,603.1h0M926.5,603.6h0M930.1,603h0M933.6,605.2h0M937.2,604h0M940.7,604.1h0M944,603.2h0M947.2,604h0M950.5,604.8h0M953.7,606h0M956.9,606.4h0M960.2,604.2h0M963.4,606.3h0M966.6,605h0M970.3,605.4h0M974,603.9h0M977.6,606.1h0M981.2,605.2h0M984.9,604.6h0M988.5,606.7h0M992.2,606.7h0M995.9,603.6h0M999.5,605h0M1003,604.7h0M1006.6,604.7h0M1010.1,605.2h0M1013.6,605.8h0M1017.1,604.5h0M1020.7,605.2h0M1024.2,606.6h0M1027.7,605.6h0M1031.3,605h0M1034.3,604.6h0M1037.3,602.9h0M1040.3,602.3h0M1043.3,603h0M1047,602.5h0M1050.6,602.1h0M1054.2,600h0M1057.9,600.3h0M1061.5,601.3h0M1065.2,603h0M1068.7,605.3h0M1072.1,604.8h0M1075.6,603.2h0M1079.1,605h0M1082.1,604.2h0M1085.2,604.9h0M1088.3,602.1h0M1091.3,604.8h0M1094.4,603h0M1097.9,604.3h0M1101.5,604.7h0M1105,603h0M1108.4,603.4h0M1111.8,605h0M1115.3,603.1h0M1118.7,603.1h0M1122.1,605h0M1125.4,606.4h0M1128.6,605.9h0M1131.8,606.2h0M1135,602.9h0M1138.2,604.1h0M1141.7,604.9h0M1145.1,604.8h0M1148.6,602.6h0M1152.1,603.8h0M1155.5,600.4h0M1159,601.4h0M1162.3,603.2h0M1165.6,601.8h0M1168.9,603.4h0M1172.1,603h0M1175.4,603.8h0M1178.6,603.8h0M1181.8,601.3h0M1185,602.2h0M1188.3,602.4h0M1191.5,602.5h0M1194.9,604.3h0M1198.4,602.6h0M1201.8,604.7h0M1205.2,604.3h0M1208.6,603.6h0M1211.9,602.5h0M1215.2,604.2h0M1218.5,604.1h0M1221.8,603.6h0M1225.3,600.4h0M1228.8,598.6h0M1232.4,596.8h0M1235,597.9h0M1237.7,597.4h0M1240.4,596.5h0M1243.3,595.1h0M1246.2,594.4h0M1249.2,595.4h0M1252.1,594.6h0M1255.2,598.3h0M1258.4,598.8h0M1261.6,600.7h0M1264.1,598.5h0M1266.7,593.7h0M1269.2,592h0M1271.8,594h0M1274.3,596h0M1276.9,595.5h0M1280.1,597.8h0M1283.3,597.4h0M1286.5,599.4h0M1289.7,598.9h0M1293,600.9h0M1296,600.7h0M1299.1,597.7h0M1302.2,598.6h0M1305.2,598.1h0M1308.3,596.3h0M1311.2,597h0M1314.1,594.4h0M1317,594.4h0M1320.6,593.4h0M1324.1,594.8h0M1327.6,592.9h0M1330.5,594.9h0M1333.3,595.1h0M1336.1,596.5h0M1339,595.5h0M1342.1,595.8h0M1345.2,596h0M1348.3,596.2h0M1351.4,597.8h0M1354.3,598.1h0M1357.2,598.2h0M1360.1,596.5h0M1363.8,597.8h0M1367.4,599.4h0M1371.1,598.9h0M1374,598.1h0M1376.9,598.6h0M1379.8,599.4h0M1382.8,598.7h0M1385.8,598.1h0M1388.8,598.9h0M1391.8,599.7h0M1394.8,598.7h0M1398.1,598.1h0M1401.4,599h0M1404.7,597.6h0M1407.6,596h0M1410.5,598.4h0M1413.4,595.4h0M1416.3,596.3h0M1419.6,596h0M1422.9,597.6h0M1426.2,594.9h0M1429.5,596h0M1432.1,596.3h0M1434.8,598.1h0M1437.5,597.1h0M1440.3,598.2h0M1443.2,598.6h0M1446,598.5h0M1448.8,597.6h0M1451.7,598.2h0M1454.7,597.7h0M1457.6,595.5h0M1460.4,595.2h0M1463.2,592.3h0M1466,592.2h0M1469.1,594.4h0M1472.2,595.5h0M1475.6,595.9h0M1479.1,597.6h0M1482,597.3h0M1485,593.1h0M1487.9,593.3h0M1491,596.1h0M1494.1,595.5h0M1497.4,596.3h0M1500.6,595.5h0M1503.6,596.7h0M1506.5,594.4h0M1509.4,595.7h0M1512.2,594.9h0M1515,591.1h0M1517.8,590h0M1521.1,586.3h0M1524.4,580.5h0M1526.6,580.7h0M1528.8,579.2h0M1531.5,578.3h0M1534.2,580.3h0M1537,580h0M1539.7,577h0M1543.2,569.6h0M1546.8,564h0M1550.3,558.6h0M1552.8,553.3h0M1555.4,546.8h0M1558,541.3h0M1560.1,535.1h0M1562.3,530.4h0M1564.5,522.8h0M1566.5,515.2h0M1568.5,508.3h0M1570.4,502.5h0M1572.4,494.1h0M1574.4,487.1h0M1576.1,480.8h0M1577.9,473.5h0M1579.6,464.9h0M1581.4,458.5h0M1583.1,451.3h0M1584.7,442.5h0M1586.2,436.8h0M1587.7,429.5h0M1589.3,420.6h0M1590.8,413.3h0M1592.4,405.3h0M1594.1,399.8h0M1594.8,392.5h0M1595.5,384.9h0M1596.3,379.7h0M1597.6,373.2h0M1598.8,365.7h0M1600.1,359.8h0M1601.4,352.6h0M1603.3,345.2h0M1605.2,336.9h0M1607.1,330.8h0M1609,324.1h0M1610.9,316.9h0M1612.2,312.5h0M1613.6,304.7h0M1614.9,299.5h0M1615.6,293h0M1616.3,284.9h0M1617.1,279.9h0M1617.8,271.6h0M1618.5,264.8h0M1619.7,258.9h0M1620.9,253.2h0M1622.1,246h0M1623.3,238.8h0M1625.1,588.3h0M1626.9,514.2h0M1628.9,520.2h0M1631,525h0M1632.2,531.8h0M1633.4,540.9h0M1634.6,546.7h0M1635.8,554.5h0M1637,559.7h0M1638.2,568.4h0M1640,574.3h0M1641.7,580.1h0M1643.4,585.7h0M1645.4,579.1h0M1647.4,573.8h0M1648.7,565.9h0M1650.1,560.9h0M1651.5,552.4h0M1652.8,546.7h0M1654.7,538.6h0M1656.5,533.6h0M1658.3,527.2h0M1661.4,522.3h0M1664.5,514.7h0M1666.9,521.3h0M1669.3,528.3h0M1670.5,534h0M1671.7,544.2h0M1672.9,549.9h0M1674.8,557.3h0M1676.6,561.9h0M1679.3,556.7h0M1682,554.3h0M1685.7,550.5h0M1689.3,546.7h0M1693,549.9h0M1696.7,555.6h0M1700.2,555.6h0M1703.7,555.2h0M1707.3,555.8h0M1710.8,555.4h0M1714.3,555.4h0M1717.9,555.3h0M1721.4,555.2h0M1725,555.4h0M1728.5,555.9h0M1732,555.3h0M1735.6,555.8h0M1739.1,555.6h0M1742.6,555.6h0"/>
</g>
</g>
</g>
<g id="axes-north">
<clipPath id="clipnorth"><rect x="146" y="872.5" width="1670.5" height="543"/></clipPath>
<path class="ax" d="M158,871H1804V874H158ZM158,1414H1804V1417H158ZM158,871H162V1417H158ZM1801,871H1804V1417H1801ZM341,1398H345V1415.5H341ZM341,872.5H345V890H341ZM523,1398H527V1415.5H523ZM523,872.5H527V890H523ZM706,1398H710V1415.5H706ZM706,872.5H710V890H706ZM888,1398H892V1415.5H888ZM888,872.5H892V890H888ZM1071,1398H1075V1415.5H1071ZM1071,872.5H1075V890H1071ZM1253,1398H1257V1415.5H1253ZM1253,872.5H1257V890H1253ZM1436,1398H1440V1415.5H1436ZM1436,872.5H1440V890H1436ZM1618,1398H1622V1415.5H1618ZM1618,872.5H1622V890H1618ZM160,1389H178V1392H160ZM1784,1389H1802.5V1392H1784ZM160,1266H178V1269H160ZM1784,1266H1802.5V1269H1784ZM160,1142H178V1145H160ZM1784,1142H1802.5V1145H1784ZM160,1019H178V1022H160ZM1784,1019H1802.5V1022H1784ZM160,896H178V899H160ZM1784,896H1802.5V899H1784Z"/>
<text class="tk" x="159.3" y="1476.8" text-anchor="middle">0</text><text class="tk" x="341.8" y="1476.8" text-anchor="middle">50</text><text class="tk" x="524.3" y="1476.8" text-anchor="middle">100</text><text class="tk" x="706.8" y="1476.8" text-anchor="middle">150</text><text class="tk" x="889.3" y="1476.8" text-anchor="middle">200</text><text class="tk" x="1071.8" y="1476.8" text-anchor="middle">250</text><text class="tk" x="1254.3" y="1476.8" text-anchor="middle">300</text><text class="tk" x="1436.8" y="1476.8" text-anchor="middle">350</text><text class="tk" x="1619.3" y="1476.8" text-anchor="middle">400</text><text class="tk" x="1801.8" y="1476.8" text-anchor="middle">450</text>
<text class="tk" x="143.7" y="1409.3" text-anchor="end">0</text><text class="tk" x="143.7" y="1285.9" text-anchor="end">5</text><text class="tk" x="143.7" y="1162.5" text-anchor="end">10</text><text class="tk" x="143.7" y="1039.1" text-anchor="end">15</text><text class="tk" x="143.7" y="915.7" text-anchor="end">20</text>
<g clip-path="url(#clipnorth)">
<g stroke="#0000ff" shape-rendering="crispEdges">
<polyline class="ln" stroke-width="7" points="160,1390.1 163.7,1390.4 167.3,1389.6 170.9,1389.3 174.6,1389.6 178.2,1390.3 181.9,1390.3 185.6,1390.5 189.2,1389.5 192.8,1389 196.5,1389.5 200.2,1389.3 203.8,1389.1 207.4,1388.9 211.1,1390.3 214.8,1390.1 218.4,1390.3 222.1,1390.2 225.7,1390.5 229.3,1389.2 233,1390.1 236.7,1389.4 240.3,1390.1 243.9,1389.7 247.6,1389.2 251.2,1390.4 254.9,1389.6 258.6,1389.9 262.2,1390.5 265.9,1389.8 269.5,1389.9 273.1,1390.5 276.8,1390.1 280.4,1390.7 284.1,1389.7 287.8,1390.5 291.4,1389.6 295.1,1390.4 298.7,1389.8 302.4,1389.2 306,1390.1 309.6,1389.6 313.3,1389.5 316.9,1389.7 320.6,1390.6 324.2,1390.1 327.9,1390.1 331.6,1389.7 335.2,1390.6 338.9,1389.9 342.5,1390 346.1,1390.5 349.8,1390.3 353.4,1390 357.1,1389.9 360.8,1390.5 364.4,1389.4 368.1,1390.2 371.7,1390.1 375.4,1390.4 379,1389.8 382.6,1388.3 386.3,1388.3 389.9,1387.6 393.6,1388.4 397.2,1388.5 400.9,1387.3 404.6,1387.4 408.2,1388.3 411.9,1388.4 415.5,1389.4 419.1,1388.7 422.8,1389.8 426.4,1388.9 430.1,1389.8 433.8,1390.4 437.4,1390.1 441.1,1389.9 444.7,1389.5 448.4,1389.5 452,1389.1 455.6,1390.2 459.3,1389.6 462.6,1388.6 465.9,1389.1 469.2,1388.1 472.4,1387.9 475.7,1386.1 479,1386.4 482.3,1387.9 485.6,1387.1 488.9,1388.2 492.1,1389.3 495.8,1389.4 499.4,1388.3 503.1,1388 506.8,1388.3 510.4,1387.6 514,1388.6 517.7,1388.8 521.4,1388.6 525,1389.6 528.6,1388.9 532.3,1389.9 536,1388.8 539.6,1389.4 543.2,1389.6 546.9,1390.4 550.5,1389.6 554.2,1389.3 557.9,1390 561.5,1390 565.1,1390.2 568.8,1390.3 572.5,1390 576.1,1389.1 579.8,1389.1 583.4,1388.7 587,1390.7 590.7,1389.4 594.4,1390.8 598,1389.8 601.5,1390.3 604.9,1389.4 608.4,1388.9 611.9,1388.8 615.3,1388.1 618.8,1388.3 621.9,1389.1 625.1,1388.4 628.2,1389.2 631.4,1390.1 634.5,1389.6 637.9,1388.7 641.2,1388.7 644.6,1388.9 647.9,1388.8 651.3,1388.8 654.6,1389.9 657.9,1389.5 661.1,1388.8 664.4,1389.2 667.7,1389.7 671,1390.1 674.6,1389.3 678.3,1389.6 682,1390.3 685.6,1391 689.2,1390.7 692.9,1390 696.5,1390 700.2,1391.2 703.9,1390.6 707.5,1389.7 711.1,1390.5 714.8,1390.5 718.5,1389.3 722.1,1389.3 725.8,1389.2 729.4,1389.9 733,1389.9 736.7,1390.3 740.4,1389.4 744,1390.1 747.6,1390.5 751.3,1390.7 755,1390.3 758.6,1390.7 762.2,1390.4 765.9,1391.1 769.5,1391.2 773.2,1391 776.9,1391 780.5,1390 784.1,1390.5 787.8,1389.8 791.5,1390.3 795.1,1390.9 798.8,1389.2 802.4,1390.1 806,1390.1 809.7,1388.3 811.9,1383.3 814.1,1378.5 816.6,1366.1 817,1362.4 817.4,1358.7 817.7,1355 821,1334 821.4,1329.1 821.7,1322.9 822.1,1316.8 824.3,1294.6 827,1275.1 827.4,1268.1 827.8,1261.1 828.1,1254 828.5,1247 828.9,1240 830.7,1238.1 831.1,1231.1 831.4,1224 831.8,1217 832.1,1210 832.5,1202.9 834.3,1198.5 834.7,1190.5 835.1,1182.5 835.4,1174.6 835.8,1166.6 836.2,1158.6 838,1156.5 838.4,1148.6 838.7,1140.6 839.1,1132.6 839.4,1124.6 839.8,1116.7 841.6,1113.9 842,1105.7 842.4,1097.5 842.7,1089.3 843.1,1081.1 843.5,1072.9 845.3,1070.7 845.7,1062.5 846,1054.3 846.4,1046.1 846.7,1037.9 847.1,1029.7 848.9,1032.7 849.3,1026.4 849.7,1020.1 850,1013.7 850.4,1007.4 850.8,1001.1 852.6,999.4 853,993.1 853.3,986.7 853.7,980.4 854,974.1 854.4,967.7 856.2,970.6 856.6,965.9 857,961.2 857.3,956.5 857.7,951.9 858.1,947.2 858.2,951.5 859.7,939.1 861.2,928.8 862.1,934.9 863,941.6 864.3,948.5 865.5,956.4 867.7,963.8 867.4,970.2 867,975.6 866.6,981.1 868.8,1048 869.4,1042.7 869.9,1037.1 872.1,1119.3 872.7,1114.6 873.2,1109.4 874.7,1183.5 875.2,1178.3 875.8,1173.6 876.1,1181.2 876.5,1189.3 876.9,1195.9 877.2,1203.3 877.6,1210 878,1218 878.5,1226.1 879,1232.3 879.5,1240.6 880,1247.7 880.5,1255.1 881.1,1260.3 881.6,1267.4 882.2,1274.3 882.7,1279.8 883.3,1286.9 884,1295.6 884.6,1302.7 885.3,1309.9 887.8,1390.8 891.1,1369.8 893.3,1370.6 895.5,1369.8 898.2,1371.6 901,1373.5 903.9,1375.5 906.8,1378.5 909.3,1381.2 911.9,1383.4 914.6,1386.4 917.4,1388.3 921,1389.8 923.8,1390.8 926.5,1390.1 930.1,1389.1 933.8,1390.3 937.5,1390.5 941.1,1389.4 944.8,1390.5 948.4,1390.3 952,1389.5 955.7,1389.5 959.4,1390.2 963,1389.4 966.6,1390.7 970.3,1389.5 974,1390 977.6,1390 981.2,1389.4 984.9,1390.4 988.5,1389.9 992.2,1389.1 995.9,1389.6 999.5,1390.9 1003.1,1390.9 1006.8,1389.9 1010.5,1390 1014.1,1390.4 1017.8,1391.3 1021.4,1390 1025,1389 1028.7,1390.4 1032.3,1390.9 1036,1390.1 1039.7,1389.7 1043.3,1389.6 1047,1390.8 1050.6,1390.5 1054.2,1390 1057.9,1390.5 1061.5,1390.1 1065.2,1390.1 1068.8,1389.3 1072.5,1390 1076.2,1390.3 1079.8,1389.2 1083.5,1390.3 1087.1,1389.5 1090.8,1390.2 1094.4,1390.4 1098,1389.4 1101.7,1390.4 1105.3,1389.7 1109,1390 1112.7,1389.9 1116.3,1390.6 1120,1390.3 1123.6,1390.2 1127.2,1389.9 1130.9,1390 1134.5,1390.2 1138.2,1389.8 1141.8,1389.9 1145.5,1389.8 1149.2,1389.7 1152.8,1390.6 1156.5,1389.5 1160.1,1390.4 1163.8,1389.5 1167.4,1390.4 1171,1389.6 1174.7,1389.4 1178.3,1389.3 1182,1389.7 1185.7,1389.5 1189.3,1389.8 1193,1389.3 1196.6,1390.1 1200.2,1390.1 1203.9,1390.4 1207.5,1388.9 1211.2,1390 1214.8,1389.9 1218.5,1389.8 1222.2,1390.1 1225.8,1390.7 1229.5,1388.8 1233.1,1389.7 1236.8,1390.4 1240.4,1388.8 1244,1389.6 1247.7,1389 1251.3,1389.6 1255,1389.8 1258.7,1390 1262.3,1389.9 1266,1389.4 1269.6,1390 1273.2,1390.1 1276.9,1388.8 1280.5,1390.3 1284.2,1390 1287.8,1390.1 1291.5,1390.3 1295.2,1390.8 1298.8,1389.6 1302,1389 1305.2,1388.3 1308.4,1387.6 1311.6,1385.9 1314.9,1386.1 1318.2,1386 1321.6,1387.1 1324.9,1387.5 1328.3,1388.4 1331.7,1389.3 1335.3,1389 1339,1390 1342.6,1388.8 1346.2,1389.2 1349.9,1389.5 1353.5,1388.8 1357.2,1389.9 1360.8,1389.3 1364.5,1390.3 1368.2,1390 1371.8,1390.2 1375.5,1389.1 1379.1,1390.6 1382.8,1390 1386.4,1390.1 1390,1389.3 1393.7,1390.3 1397.3,1389.6 1401,1390.1 1404.7,1390.9 1408.3,1389.1 1412,1390.7 1415.6,1389.4 1419.2,1390.8 1422.9,1389.1 1426.5,1389.4 1430.2,1389.7 1433.8,1389.8 1437.5,1389.6 1441.2,1390.2 1444.8,1390.5 1448.5,1389.4 1452.1,1389.8 1455.8,1390.1 1459.4,1389.9 1463,1390 1466.7,1390.3 1470.3,1389.3 1474,1389.8 1477.7,1389.6 1481.3,1389.2 1485,1388.7 1488.6,1388.7 1492.2,1389.9 1495.9,1389.8 1499.5,1389.2 1503.2,1389.3 1506.4,1389.2 1509.6,1388.7 1512.8,1387.4 1516,1387.4 1519.2,1387.6 1522.4,1388.9 1525.6,1389.4 1528.8,1389.6 1532.4,1390 1536,1389.6 1539.7,1386.5 1543.3,1383.4 1544.8,1379.7 1546.1,1371.7 1546.5,1368.2 1546.8,1364.8 1547.2,1361.3 1547.5,1357.9 1547.9,1354.4 1549.7,1343.9 1550.1,1340.4 1550.5,1337 1550.8,1333.6 1551.2,1330.1 1551.6,1326.7 1553.4,1306.2 1553.8,1300.9 1554.1,1295.7 1554.5,1290.5 1554.8,1285.2 1555.2,1280 1557,1264 1557.4,1258.7 1557.8,1253.5 1558.1,1248.3 1558.5,1243 1558.9,1237.8 1560.7,1219.2 1561.1,1213 1561.4,1206.7 1561.8,1200.5 1562.1,1194.2 1562.5,1188 1564.3,1171.9 1564.7,1165.7 1565.1,1159.5 1565.4,1153.2 1565.8,1147 1566.2,1140.7 1568,1129.8 1568.4,1120.2 1568.7,1110.5 1569.1,1100.9 1569.4,1091.3 1569.8,1081.7 1571.6,1079.2 1572,1069.6 1572.4,1060 1572.7,1050.3 1573.1,1040.7 1573.5,1031.1 1575.3,1036 1575.7,1029.1 1576,1022.2 1576.4,1015.3 1576.7,1008.4 1577.1,1001.4 1578.9,999.6 1579.3,992.7 1579.7,985.8 1580,978.9 1580.4,972 1580.8,965 1582.6,959.7 1583,951.5 1583.3,943.2 1583.7,935 1584,926.8 1584.4,918.6 1583.9,933.5 1584.6,926.6 1585.3,919.4 1586.1,913.3 1586.8,907.8 1588.1,915.1 1589.3,921.9 1589.7,927.9 1590.1,934.8 1590.4,941.6 1591.4,948.4 1592.4,955.4 1593.4,961.4 1593.7,967.8 1594.1,973.7 1593.4,980.3 1592.6,984.5 1591.9,991 1595.2,1073.7 1596.3,1062.5 1598.5,1136.6 1599.7,1126.7 1602.8,1181 1603.9,1198.3 1604.4,1204.5 1604.8,1210.7 1605.3,1217.3 1605.7,1223.3 1606.1,1230.4 1606.5,1237.9 1606.9,1245 1607.2,1253.4 1607.6,1260.2 1608,1267.3 1608.3,1275.2 1608.7,1283.2 1609.4,1290.9 1610.1,1297.9 1610.9,1305.7 1612.3,1326.6 1612.9,1333.6 1613.6,1340 1614.2,1346.4 1614.9,1353.1 1615.6,1361.2 1616.2,1368 1616.7,1374.9 1617.3,1381.5 1617.8,1388.8 1621.1,1366.1 1622.3,1358.6 1623.5,1351.2 1624.7,1343.9 1626.3,1351.8 1627.9,1358.7 1629.5,1367.1 1631.1,1374 1632.8,1380.9 1634.6,1385.8 1636.4,1388.3 1638.2,1389.6 1641.8,1388.2 1645.3,1388.1 1648.8,1387.3 1652.3,1386.3 1655.8,1385.6 1658.8,1385.7 1661.9,1387.2 1665,1388.1 1668,1388.3 1671.1,1389.3 1674.8,1389.4 1678.4,1389 1682,1388.1 1685.7,1388.3 1689.3,1388.9 1693,1389.1 1696.7,1388.6 1700.3,1390.1 1703.8,1390.3 1707.4,1390 1710.9,1389.9 1714.4,1390.2 1717.9,1390 1721.5,1389.6 1725,1390.5 1728.5,1389.3 1732.1,1389.8 1735.6,1389.7 1739.1,1390.1 1742.6,1390.1"/>
<path class="mk" stroke-width="18.4" d="M160,1390.1h0M163.7,1390.4h0M167.3,1389.6h0M170.9,1389.3h0M174.6,1389.6h0M178.2,1390.3h0M181.9,1390.3h0M185.6,1390.5h0M189.2,1389.5h0M192.8,1389h0M196.5,1389.5h0M200.2,1389.3h0M203.8,1389.1h0M207.4,1388.9h0M211.1,1390.3h0M214.8,1390.1h0M218.4,1390.3h0M222.1,1390.2h0M225.7,1390.5h0M229.3,1389.2h0M233,1390.1h0M236.7,1389.4h0M240.3,1390.1h0M243.9,1389.7h0M247.6,1389.2h0M251.2,1390.4h0M254.9,1389.6h0M258.6,1389.9h0M262.2,1390.5h0M265.9,1389.8h0M269.5,1389.9h0M273.1,1390.5h0M276.8,1390.1h0M280.4,1390.7h0M284.1,1389.7h0M287.8,1390.5h0M291.4,1389.6h0M295.1,1390.4h0M298.7,1389.8h0M302.4,1389.2h0M306,1390.1h0M309.6,1389.6h0M313.3,1389.5h0M316.9,1389.7h0M320.6,1390.6h0M324.2,1390.1h0M327.9,1390.1h0M331.6,1389.7h0M335.2,1390.6h0M338.9,1389.9h0M342.5,1390h0M346.1,1390.5h0M349.8,1390.3h0M353.4,1390h0M357.1,1389.9h0M360.8,1390.5h0M364.4,1389.4h0M368.1,1390.2h0M371.7,1390.1h0M375.4,1390.4h0M379,1389.8h0M382.6,1388.3h0M386.3,1388.3h0M389.9,1387.6h0M393.6,1388.4h0M397.2,1388.5h0M400.9,1387.3h0M404.6,1387.4h0M408.2,1388.3h0M411.9,1388.4h0M415.5,1389.4h0M419.1,1388.7h0M422.8,1389.8h0M426.4,1388.9h0M430.1,1389.8h0M433.8,1390.4h0M437.4,1390.1h0M441.1,1389.9h0M444.7,1389.5h0M448.4,1389.5h0M452,1389.1h0M455.6,1390.2h0M459.3,1389.6h0M462.6,1388.6h0M465.9,1389.1h0M469.2,1388.1h0M472.4,1387.9h0M475.7,1386.1h0M479,1386.4h0M482.3,1387.9h0M485.6,1387.1h0M488.9,1388.2h0M492.1,1389.3h0M495.8,1389.4h0M499.4,1388.3h0M503.1,1388h0M506.8,1388.3h0M510.4,1387.6h0M514,1388.6h0M517.7,1388.8h0M521.4,1388.6h0M525,1389.6h0M528.6,1388.9h0M532.3,1389.9h0M536,1388.8h0M539.6,1389.4h0M543.2,1389.6h0M546.9,1390.4h0M550.5,1389.6h0M554.2,1389.3h0M557.9,1390h0M561.5,1390h0M565.1,1390.2h0M568.8,1390.3h0M572.5,1390h0M576.1,1389.1h0M579.8,1389.1h0M583.4,1388.7h0M587,1390.7h0M590.7,1389.4h0M594.4,1390.8h0M598,1389.8h0M601.5,1390.3h0M604.9,1389.4h0M608.4,1388.9h0M611.9,1388.8h0M615.3,1388.1h0M618.8,1388.3h0M621.9,1389.1h0M625.1,1388.4h0M628.2,1389.2h0M631.4,1390.1h0M634.5,1389.6h0M637.9,1388.7h0M641.2,1388.7h0M644.6,1388.9h0M647.9,1388.8h0M651.3,1388.8h0M654.6,1389.9h0M657.9,1389.5h0M661.1,1388.8h0M664.4,1389.2h0M667.7,1389.7h0M671,1390.1h0M674.6,1389.3h0M678.3,1389.6h0M682,1390.3h0M685.6,1391h0M689.2,1390.7h0M692.9,1390h0M696.5,1390h0M700.2,1391.2h0M703.9,1390.6h0M707.5,1389.7h0M711.1,1390.5h0M714.8,1390.5h0M718.5,1389.3h0M722.1,1389.3h0M725.8,1389.2h0M729.4,1389.9h0M733,1389.9h0M736.7,1390.3h0M740.4,1389.4h0M744,1390.1h0M747.6,1390.5h0M751.3,1390.7h0M755,1390.3h0M758.6,1390.7h0M762.2,1390.4h0M765.9,1391.1h0M769.5,1391.2h0M773.2,1391h0M776.9,1391h0M780.5,1390h0M784.1,1390.5h0M787.8,1389.8h0M791.5,1390.3h0M795.1,1390.9h0M798.8,1389.2h0M802.4,1390.1h0M806,1390.1h0M809.7,1388.3h0M811.9,1383.3h0M814.1,1378.5h0M816.6,1366.1h0M817,1362.4h0M817.4,1358.7h0M817.7,1355h0M821,1334h0M821.4,1329.1h0M821.7,1322.9h0M822.1,1316.8h0M824.3,1294.6h0M827,1275.1h0M827.4,1268.1h0M827.8,1261.1h0M828.1,1254h0M828.5,1247h0M828.9,1240h0M830.7,1238.1h0M831.1,1231.1h0M831.4,1224h0M831.8,1217h0M832.1,1210h0M832.5,1202.9h0M834.3,1198.5h0M834.7,1190.5h0M835.1,1182.5h0M835.4,1174.6h0M835.8,1166.6h0M836.2,1158.6h0M838,1156.5h0M838.4,1148.6h0M838.7,1140.6h0M839.1,1132.6h0M839.4,1124.6h0M839.8,1116.7h0M841.6,1113.9h0M842,1105.7h0M842.4,1097.5h0M842.7,1089.3h0M843.1,1081.1h0M843.5,1072.9h0M845.3,1070.7h0M845.7,1062.5h0M846,1054.3h0M846.4,1046.1h0M846.7,1037.9h0M847.1,1029.7h0M848.9,1032.7h0M849.3,1026.4h0M849.7,1020.1h0M850,1013.7h0M850.4,1007.4h0M850.8,1001.1h0M852.6,999.4h0M853,993.1h0M853.3,986.7h0M853.7,980.4h0M854,974.1h0M854.4,967.7h0M856.2,970.6h0M856.6,965.9h0M857,961.2h0M857.3,956.5h0M857.7,951.9h0M858.1,947.2h0M858.2,951.5h0M859.7,939.1h0M861.2,928.8h0M862.1,934.9h0M863,941.6h0M864.3,948.5h0M865.5,956.4h0M867.7,963.8h0M867.4,970.2h0M867,975.6h0M866.6,981.1h0M868.8,1048h0M869.4,1042.7h0M869.9,1037.1h0M872.1,1119.3h0M872.7,1114.6h0M873.2,1109.4h0M874.7,1183.5h0M875.2,1178.3h0M875.8,1173.6h0M876.1,1181.2h0M876.5,1189.3h0M876.9,1195.9h0M877.2,1203.3h0M877.6,1210h0M878,1218h0M878.5,1226.1h0M879,1232.3h0M879.5,1240.6h0M880,1247.7h0M880.5,1255.1h0M881.1,1260.3h0M881.6,1267.4h0M882.2,1274.3h0M882.7,1279.8h0M883.3,1286.9h0M884,1295.6h0M884.6,1302.7h0M885.3,1309.9h0M887.8,1390.8h0M891.1,1369.8h0M893.3,1370.6h0M895.5,1369.8h0M898.2,1371.6h0M901,1373.5h0M903.9,1375.5h0M906.8,1378.5h0M909.3,1381.2h0M911.9,1383.4h0M914.6,1386.4h0M917.4,1388.3h0M921,1389.8h0M923.8,1390.8h0M926.5,1390.1h0M930.1,1389.1h0M933.8,1390.3h0M937.5,1390.5h0M941.1,1389.4h0M944.8,1390.5h0M948.4,1390.3h0M952,1389.5h0M955.7,1389.5h0M959.4,1390.2h0M963,1389.4h0M966.6,1390.7h0M970.3,1389.5h0M974,1390h0M977.6,1390h0M981.2,1389.4h0M984.9,1390.4h0M988.5,1389.9h0M992.2,1389.1h0M995.9,1389.6h0M999.5,1390.9h0M1003.1,1390.9h0M1006.8,1389.9h0M1010.5,1390h0M1014.1,1390.4h0M1017.8,1391.3h0M1021.4,1390h0M1025,1389h0M1028.7,1390.4h0M1032.3,1390.9h0M1036,1390.1h0M1039.7,1389.7h0M1043.3,1389.6h0M1047,1390.8h0M1050.6,1390.5h0M1054.2,1390h0M1057.9,1390.5h0M1061.5,1390.1h0M1065.2,1390.1h0M1068.8,1389.3h0M1072.5,1390h0M1076.2,1390.3h0M1079.8,1389.2h0M1083.5,1390.3h0M1087.1,1389.5h0M1090.8,1390.2h0M1094.4,1390.4h0M1098,1389.4h0M1101.7,1390.4h0M1105.3,1389.7h0M1109,1390h0M1112.7,1389.9h0M1116.3,1390.6h0M1120,1390.3h0M1123.6,1390.2h0M1127.2,1389.9h0M1130.9,1390h0M1134.5,1390.2h0M1138.2,1389.8h0M1141.8,1389.9h0M1145.5,1389.8h0M1149.2,1389.7h0M1152.8,1390.6h0M1156.5,1389.5h0M1160.1,1390.4h0M1163.8,1389.5h0M1167.4,1390.4h0M1171,1389.6h0M1174.7,1389.4h0M1178.3,1389.3h0M1182,1389.7h0M1185.7,1389.5h0M1189.3,1389.8h0M1193,1389.3h0M1196.6,1390.1h0M1200.2,1390.1h0M1203.9,1390.4h0M1207.5,1388.9h0M1211.2,1390h0M1214.8,1389.9h0M1218.5,1389.8h0M1222.2,1390.1h0M1225.8,1390.7h0M1229.5,1388.8h0M1233.1,1389.7h0M1236.8,1390.4h0M1240.4,1388.8h0M1244,1389.6h0M1247.7,1389h0M1251.3,1389.6h0M1255,1389.8h0M1258.7,1390h0M1262.3,1389.9h0M1266,1389.4h0M1269.6,1390h0M1273.2,1390.1h0M1276.9,1388.8h0M1280.5,1390.3h0M1284.2,1390h0M1287.8,1390.1h0M1291.5,1390.3h0M1295.2,1390.8h0M1298.8,1389.6h0M1302,1389h0M1305.2,1388.3h0M1308.4,1387.6h0M1311.6,1385.9h0M1314.9,1386.1h0M1318.2,1386h0M1321.6,1387.1h0M1324.9,1387.5h0M1328.3,1388.4h0M1331.7,1389.3h0M1335.3,1389h0M1339,1390h0M1342.6,1388.8h0M1346.2,1389.2h0M1349.9,1389.5h0M1353.5,1388.8h0M1357.2,1389.9h0M1360.8,1389.3h0M1364.5,1390.3h0M1368.2,1390h0M1371.8,1390.2h0M1375.5,1389.1h0M1379.1,1390.6h0M1382.8,1390h0M1386.4,1390.1h0M1390,1389.3h0M1393.7,1390.3h0M1397.3,1389.6h0M1401,1390.1h0M1404.7,1390.9h0M1408.3,1389.1h0M1412,1390.7h0M1415.6,1389.4h0M1419.2,1390.8h0M1422.9,1389.1h0M1426.5,1389.4h0M1430.2,1389.7h0M1433.8,1389.8h0M1437.5,1389.6h0M1441.2,1390.2h0M1444.8,1390.5h0M1448.5,1389.4h0M1452.1,1389.8h0M1455.8,1390.1h0M1459.4,1389.9h0M1463,1390h0M1466.7,1390.3h0M1470.3,1389.3h0M1474,1389.8h0M1477.7,1389.6h0M1481.3,1389.2h0M1485,1388.7h0M1488.6,1388.7h0M1492.2,1389.9h0M1495.9,1389.8h0M1499.5,1389.2h0M1503.2,1389.3h0M1506.4,1389.2h0M1509.6,1388.7h0M1512.8,1387.4h0M1516,1387.4h0M1519.2,1387.6h0M1522.4,1388.9h0M1525.6,1389.4h0M1528.8,1389.6h0M1532.4,1390h0M1536,1389.6h0M1539.7,1386.5h0M1543.3,1383.4h0M1544.8,1379.7h0M1546.1,1371.7h0M1546.5,1368.2h0M1546.8,1364.8h0M1547.2,1361.3h0M1547.5,1357.9h0M1547.9,1354.4h0M1549.7,1343.9h0M1550.1,1340.4h0M1550.5,1337h0M1550.8,1333.6h0M1551.2,1330.1h0M1551.6,1326.7h0M1553.4,1306.2h0M1553.8,1300.9h0M1554.1,1295.7h0M1554.5,1290.5h0M1554.8,1285.2h0M1555.2,1280h0M1557,1264h0M1557.4,1258.7h0M1557.8,1253.5h0M1558.1,1248.3h0M1558.5,1243h0M1558.9,1237.8h0M1560.7,1219.2h0M1561.1,1213h0M1561.4,1206.7h0M1561.8,1200.5h0M1562.1,1194.2h0M1562.5,1188h0M1564.3,1171.9h0M1564.7,1165.7h0M1565.1,1159.5h0M1565.4,1153.2h0M1565.8,1147h0M1566.2,1140.7h0M1568,1129.8h0M1568.4,1120.2h0M1568.7,1110.5h0M1569.1,1100.9h0M1569.4,1091.3h0M1569.8,1081.7h0M1571.6,1079.2h0M1572,1069.6h0M1572.4,1060h0M1572.7,1050.3h0M1573.1,1040.7h0M1573.5,1031.1h0M1575.3,1036h0M1575.7,1029.1h0M1576,1022.2h0M1576.4,1015.3h0M1576.7,1008.4h0M1577.1,1001.4h0M1578.9,999.6h0M1579.3,992.7h0M1579.7,985.8h0M1580,978.9h0M1580.4,972h0M1580.8,965h0M1582.6,959.7h0M1583,951.5h0M1583.3,943.2h0M1583.7,935h0M1584,926.8h0M1584.4,918.6h0M1583.9,933.5h0M1584.6,926.6h0M1585.3,919.4h0M1586.1,913.3h0M1586.8,907.8h0M1588.1,915.1h0M1589.3,921.9h0M1589.7,927.9h0M1590.1,934.8h0M1590.4,941.6h0M1591.4,948.4h0M1592.4,955.4h0M1593.4,961.4h0M1593.7,967.8h0M1594.1,973.7h0M1593.4,980.3h0M1592.6,984.5h0M1591.9,991h0M1595.2,1073.7h0M1596.3,1062.5h0M1598.5,1136.6h0M1599.7,1126.7h0M1602.8,1181h0M1603.9,1198.3h0M1604.4,1204.5h0M1604.8,1210.7h0M1605.3,1217.3h0M1605.7,1223.3h0M1606.1,1230.4h0M1606.5,1237.9h0M1606.9,1245h0M1607.2,1253.4h0M1607.6,1260.2h0M1608,1267.3h0M1608.3,1275.2h0M1608.7,1283.2h0M1609.4,1290.9h0M1610.1,1297.9h0M1610.9,1305.7h0M1612.3,1326.6h0M1612.9,1333.6h0M1613.6,1340h0M1614.2,1346.4h0M1614.9,1353.1h0M1615.6,1361.2h0M1616.2,1368h0M1616.7,1374.9h0M1617.3,1381.5h0M1617.8,1388.8h0M1621.1,1366.1h0M1622.3,1358.6h0M1623.5,1351.2h0M1624.7,1343.9h0M1626.3,1351.8h0M1627.9,1358.7h0M1629.5,1367.1h0M1631.1,1374h0M1632.8,1380.9h0M1634.6,1385.8h0M1636.4,1388.3h0M1638.2,1389.6h0M1641.8,1388.2h0M1645.3,1388.1h0M1648.8,1387.3h0M1652.3,1386.3h0M1655.8,1385.6h0M1658.8,1385.7h0M1661.9,1387.2h0M1665,1388.1h0M1668,1388.3h0M1671.1,1389.3h0M1674.8,1389.4h0M1678.4,1389h0M1682,1388.1h0M1685.7,1388.3h0M1689.3,1388.9h0M1693,1389.1h0M1696.7,1388.6h0M1700.3,1390.1h0M1703.8,1390.3h0M1707.4,1390h0M1710.9,1389.9h0M1714.4,1390.2h0M1717.9,1390h0M1721.5,1389.6h0M1725,1390.5h0M1728.5,1389.3h0M1732.1,1389.8h0M1735.6,1389.7h0M1739.1,1390.1h0M1742.6,1390.1h0"/>
</g>
<g stroke="#00ff00" shape-rendering="crispEdges">
<polyline class="ln" stroke-width="7" points="160,1390.1 163.7,1390.1 167.3,1389.6 170.9,1389.6 174.6,1389.6 178.2,1390.2 181.9,1390.4 185.6,1390.3 189.2,1390.1 192.8,1389.6 196.5,1390 200.2,1389.8 203.8,1389.6 207.4,1389.6 211.1,1390.5 214.8,1389.9 218.4,1389.8 222.1,1390.4 225.7,1390 229.3,1389.7 233,1390.1 236.7,1390.2 240.3,1390 243.9,1389.8 247.6,1389.7 251.2,1389.7 254.9,1389.9 258.6,1389.6 262.2,1390.3 265.9,1390.4 269.5,1389.8 273.1,1390 276.8,1389.8 280.4,1390.2 284.1,1389.6 287.8,1390.5 291.4,1390.1 295.1,1390.5 298.7,1390 302.4,1389.7 306,1390.1 309.6,1390.1 313.3,1389.6 316.9,1389.6 320.6,1390.2 324.2,1390.1 327.9,1390 331.6,1389.8 335.2,1390.1 338.9,1390.2 342.5,1390.4 346.1,1390.1 349.8,1390.5 353.4,1389.9 357.1,1389.7 360.8,1390.4 364.4,1389.8 368.1,1389.8 371.7,1390.1 375.4,1390 379,1389.3 382.6,1388.7 386.3,1388.3 389.9,1388 393.6,1387.9 397.2,1388.8 400.9,1388 404.6,1388.1 408.2,1388.3 411.9,1388.8 415.5,1389.5 419.1,1389.2 422.8,1389.8 426.4,1389.4 430.1,1390 433.8,1390.2 437.4,1389.5 441.1,1389.4 444.7,1390 448.4,1389.8 452,1389.8 455.6,1390 459.3,1389.6 462.6,1388.8 465.9,1388.8 469.2,1388 472.4,1387.5 475.7,1386.5 479,1386.4 482.3,1387.3 485.6,1387.5 488.9,1388.2 492.1,1389.3 495.8,1389.3 499.4,1388.9 503.1,1388.3 506.8,1388.3 510.4,1388.4 514,1389.1 517.7,1388.8 521.4,1389.3 525,1389.6 528.6,1389.1 532.3,1389.7 536,1389.3 539.6,1389.6 543.2,1389.3 546.9,1389.8 550.5,1390.1 554.2,1389.7 557.9,1389.9 561.5,1389.8 565.1,1389.5 568.8,1389.7 572.5,1389.7 576.1,1389.5 579.8,1389.4 583.4,1389.4 587,1390.1 590.7,1389.3 594.4,1390.2 598,1389.8 601.5,1389.9 604.9,1389.2 608.4,1389.4 611.9,1389.2 615.3,1388.7 618.8,1388.3 621.9,1388.9 625.1,1388.5 628.2,1388.8 631.4,1389.8 634.5,1389.6 637.9,1389.1 641.2,1389 644.6,1389.5 647.9,1388.7 651.3,1388.8 654.6,1389.5 657.9,1389.7 661.1,1389.2 664.4,1389.5 667.7,1390.2 671,1390.1 674.6,1389.9 678.3,1390.3 682,1390.3 685.6,1390.5 689.2,1390.4 692.9,1389.6 696.5,1390.5 700.2,1390.4 703.9,1390.4 707.5,1390.1 711.1,1390.6 714.8,1390 718.5,1390 722.1,1389.8 725.8,1389.6 729.4,1389.8 733,1389.7 736.7,1390.5 740.4,1389.9 744,1390.1 747.6,1390 751.3,1390 755,1390.1 758.6,1390 762.2,1389.8 765.9,1390.4 769.5,1390.5 773.2,1390.3 776.9,1390.3 780.5,1390.2 784.1,1390.4 787.8,1389.6 791.5,1390.3 795.1,1390.4 798.8,1389.6 802.4,1390.1 806,1389.4 809.7,1388.3 813.4,1384.5 817,1380.9 820.4,1374 823.8,1367.7 827.1,1361.8 830.5,1354.8 832.1,1347.8 833.7,1340.5 835.3,1332.9 836.9,1325.8 838.5,1319 839.7,1312.3 840.9,1304.3 842,1297.8 843.2,1290.4 844.4,1283.2 845.9,1276.5 847.5,1270.2 849,1263.6 850.6,1256.8 853,1255.9 855.3,1255.1 858.1,1248.9 860.8,1242.7 863.7,1236.1 866.6,1229.4 868.2,1223.9 869.7,1217.6 871.3,1211.9 872.8,1205.7 875,1204.8 877.2,1203 880.9,1205.7 883.2,1208.5 885.6,1211.6 887.8,1366.1 890.9,1368.4 894,1370.8 897.1,1373.6 900.2,1377.2 903.5,1379.4 906.8,1382.4 909.3,1385.2 911.9,1387.1 914.8,1388.1 917.7,1389.6 920.7,1389.7 923.6,1390 926.5,1390.1 930.1,1389.7 933.8,1390.5 937.5,1390.2 941.1,1390 944.8,1389.8 948.4,1390 952,1389.6 955.7,1390.2 959.4,1390.4 963,1390.1 966.6,1390.4 970.3,1390.1 974,1390.5 977.6,1390.4 981.2,1389.7 984.9,1390.2 988.5,1390.5 992.2,1389.8 995.9,1390.3 999.5,1390.4 1003.1,1390.3 1006.8,1390.5 1010.5,1390.6 1014.1,1390 1017.8,1390.5 1021.4,1390.1 1025,1389.6 1028.7,1390.2 1032.3,1390.2 1036,1390.1 1039.7,1390 1043.3,1390.3 1047,1390.4 1050.6,1389.8 1054.2,1390.3 1057.9,1389.9 1061.5,1389.6 1065.2,1389.6 1068.8,1389.9 1072.5,1390.4 1076.2,1390.2 1079.8,1389.6 1083.5,1390.1 1087.1,1390 1090.8,1389.6 1094.4,1390.3 1098,1389.8 1101.7,1390.3 1105.3,1389.5 1109,1389.5 1112.7,1389.6 1116.3,1390.1 1120,1389.8 1123.6,1389.8 1127.2,1390.2 1130.9,1390 1134.5,1389.8 1138.2,1389.6 1141.8,1390.2 1145.5,1389.8 1149.2,1389.4 1152.8,1390.2 1156.5,1389.7 1160.1,1389.9 1163.8,1389.8 1167.4,1389.9 1171,1389.6 1174.7,1389.9 1178.3,1389.7 1182,1390.1 1185.7,1389.6 1189.3,1390.3 1193,1389.9 1196.6,1389.9 1200.2,1390.1 1203.9,1390 1207.5,1389.4 1211.2,1390 1214.8,1389.5 1218.5,1389.8 1222.2,1389.9 1225.8,1390.2 1229.5,1389.5 1233.1,1389.5 1236.8,1389.7 1240.4,1389.4 1244,1389.7 1247.7,1389.6 1251.3,1389.8 1255,1389.8 1258.7,1389.6 1262.3,1389.8 1266,1390.1 1269.6,1389.4 1273.2,1390 1276.9,1389.3 1280.5,1390.1 1284.2,1389.4 1287.8,1389.5 1291.5,1389.7 1295.2,1390.1 1298.8,1389.6 1302,1388.7 1305.2,1387.9 1308.4,1387.9 1311.6,1386.4 1314.9,1386.1 1318.2,1386.3 1321.6,1387.7 1324.9,1387.9 1328.3,1388.6 1331.7,1389.3 1335.3,1389.7 1339,1389.6 1342.6,1389 1346.2,1389.7 1349.9,1389.6 1353.5,1389.4 1357.2,1389.9 1360.8,1389.2 1364.5,1389.7 1368.2,1389.8 1371.8,1390 1375.5,1389.3 1379.1,1390.3 1382.8,1390 1386.4,1389.7 1390,1389.8 1393.7,1390.4 1397.3,1390.1 1401,1390.1 1404.7,1390.2 1408.3,1389.8 1412,1390.4 1415.6,1389.9 1419.2,1390.4 1422.9,1389.6 1426.5,1389.7 1430.2,1390 1433.8,1389.9 1437.5,1390 1441.2,1390.1 1444.8,1390.2 1448.5,1389.9 1452.1,1389.9 1455.8,1390.3 1459.4,1390.3 1463,1390 1466.7,1390.3 1470.3,1390 1474,1389.8 1477.7,1389.3 1481.3,1389.6 1485,1389.3 1488.6,1389.4 1492.2,1389.9 1495.9,1389.7 1499.5,1389.8 1503.2,1389.3 1506.4,1389.1 1509.6,1388.7 1512.8,1387.9 1516,1387.4 1519.2,1387.7 1522.4,1388.7 1525.6,1388.7 1528.8,1389.6 1532.3,1389 1535.8,1388.6 1539.3,1388.3 1542.4,1384.2 1545.5,1380.7 1548.6,1376.8 1551.7,1372.8 1554.8,1365.9 1558,1358.7 1560,1352.7 1562,1345.7 1564,1339.7 1566,1333.3 1566.9,1325.5 1567.8,1318.2 1568.7,1310.2 1569.6,1303 1572,1301.6 1574.4,1299.5 1578,1294.6 1579.8,1289 1581.7,1283.2 1583.5,1276.7 1585.3,1270.7 1587.2,1264.9 1588.9,1258.8 1590.7,1253.3 1592.4,1247.4 1593.7,1242.2 1595,1236.4 1596.3,1230.4 1599,1225.4 1601.8,1219.5 1604.5,1220.4 1607.2,1221.7 1609.5,1224.5 1611.8,1227.9 1612.9,1234.1 1615.1,1240.3 1616.2,1246.4 1618,1261.2 1619.1,1268.6 1622.4,1279.8 1623.5,1285.9 1625.3,1299.5 1626.4,1305.7 1627.7,1388.3 1631,1389.8 1634.6,1390.1 1638.2,1389.6 1641.8,1388.5 1645.3,1388.2 1648.8,1387 1652.3,1386.9 1655.8,1385.6 1658.8,1385.9 1661.9,1386.8 1665,1387.9 1668,1388.5 1671.1,1389.3 1674.8,1389.4 1678.4,1388.7 1682,1388.4 1685.7,1388.3 1689.3,1389.2 1693,1389 1696.7,1389.2 1700.3,1390.1 1703.8,1390 1707.4,1389.9 1710.9,1389.7 1714.4,1390.6 1717.9,1389.9 1721.5,1390.2 1725,1389.9 1728.5,1389.9 1732.1,1389.8 1735.6,1390.4 1739.1,1390.6 1742.6,1390.1"/>
<path class="mk" stroke-width="18.4" d="M160,1390.1h0M163.7,1390.1h0M167.3,1389.6h0M170.9,1389.6h0M174.6,1389.6h0M178.2,1390.2h0M181.9,1390.4h0M185.6,1390.3h0M189.2,1390.1h0M192.8,1389.6h0M196.5,1390h0M200.2,1389.8h0M203.8,1389.6h0M207.4,1389.6h0M211.1,1390.5h0M214.8,1389.9h0M218.4,1389.8h0M222.1,1390.4h0M225.7,1390h0M229.3,1389.7h0M233,1390.1h0M236.7,1390.2h0M240.3,1390h0M243.9,1389.8h0M247.6,1389.7h0M251.2,1389.7h0M254.9,1389.9h0M258.6,1389.6h0M262.2,1390.3h0M265.9,1390.4h0M269.5,1389.8h0M273.1,1390h0M276.8,1389.8h0M280.4,1390.2h0M284.1,1389.6h0M287.8,1390.5h0M291.4,1390.1h0M295.1,1390.5h0M298.7,1390h0M302.4,1389.7h0M306,1390.1h0M309.6,1390.1h0M313.3,1389.6h0M316.9,1389.6h0M320.6,1390.2h0M324.2,1390.1h0M327.9,1390h0M331.6,1389.8h0M335.2,1390.1h0M338.9,1390.2h0M342.5,1390.4h0M346.1,1390.1h0M349.8,1390.5h0M353.4,1389.9h0M357.1,1389.7h0M360.8,1390.4h0M364.4,1389.8h0M368.1,1389.8h0M371.7,1390.1h0M375.4,1390h0M379,1389.3h0M382.6,1388.7h0M386.3,1388.3h0M389.9,1388h0M393.6,1387.9h0M397.2,1388.8h0M400.9,1388h0M404.6,1388.1h0M408.2,1388.3h0M411.9,1388.8h0M415.5,1389.5h0M419.1,1389.2h0M422.8,1389.8h0M426.4,1389.4h0M430.1,1390h0M433.8,1390.2h0M437.4,1389.5h0M441.1,1389.4h0M444.7,1390h0M448.4,1389.8h0M452,1389.8h0M455.6,1390h0M459.3,1389.6h0M462.6,1388.8h0M465.9,1388.8h0M469.2,1388h0M472.4,1387.5h0M475.7,1386.5h0M479,1386.4h0M482.3,1387.3h0M485.6,1387.5h0M488.9,1388.2h0M492.1,1389.3h0M495.8,1389.3h0M499.4,1388.9h0M503.1,1388.3h0M506.8,1388.3h0M510.4,1388.4h0M514,1389.1h0M517.7,1388.8h0M521.4,1389.3h0M525,1389.6h0M528.6,1389.1h0M532.3,1389.7h0M536,1389.3h0M539.6,1389.6h0M543.2,1389.3h0M546.9,1389.8h0M550.5,1390.1h0M554.2,1389.7h0M557.9,1389.9h0M561.5,1389.8h0M565.1,1389.5h0M568.8,1389.7h0M572.5,1389.7h0M576.1,1389.5h0M579.8,1389.4h0M583.4,1389.4h0M587,1390.1h0M590.7,1389.3h0M594.4,1390.2h0M598,1389.8h0M601.5,1389.9h0M604.9,1389.2h0M608.4,1389.4h0M611.9,1389.2h0M615.3,1388.7h0M618.8,1388.3h0M621.9,1388.9h0M625.1,1388.5h0M628.2,1388.8h0M631.4,1389.8h0M634.5,1389.6h0M637.9,1389.1h0M641.2,1389h0M644.6,1389.5h0M647.9,1388.7h0M651.3,1388.8h0M654.6,1389.5h0M657.9,1389.7h0M661.1,1389.2h0M664.4,1389.5h0M667.7,1390.2h0M671,1390.1h0M674.6,1389.9h0M678.3,1390.3h0M682,1390.3h0M685.6,1390.5h0M689.2,1390.4h0M692.9,1389.6h0M696.5,1390.5h0M700.2,1390.4h0M703.9,1390.4h0M707.5,1390.1h0M711.1,1390.6h0M714.8,1390h0M718.5,1390h0M722.1,1389.8h0M725.8,1389.6h0M729.4,1389.8h0M733,1389.7h0M736.7,1390.5h0M740.4,1389.9h0M744,1390.1h0M747.6,1390h0M751.3,1390h0M755,1390.1h0M758.6,1390h0M762.2,1389.8h0M765.9,1390.4h0M769.5,1390.5h0M773.2,1390.3h0M776.9,1390.3h0M780.5,1390.2h0M784.1,1390.4h0M787.8,1389.6h0M791.5,1390.3h0M795.1,1390.4h0M798.8,1389.6h0M802.4,1390.1h0M806,1389.4h0M809.7,1388.3h0M813.4,1384.5h0M817,1380.9h0M820.4,1374h0M823.8,1367.7h0M827.1,1361.8h0M830.5,1354.8h0M832.1,1347.8h0M833.7,1340.5h0M835.3,1332.9h0M836.9,1325.8h0M838.5,1319h0M839.7,1312.3h0M840.9,1304.3h0M842,1297.8h0M843.2,1290.4h0M844.4,1283.2h0M845.9,1276.5h0M847.5,1270.2h0M849,1263.6h0M850.6,1256.8h0M853,1255.9h0M855.3,1255.1h0M858.1,1248.9h0M860.8,1242.7h0M863.7,1236.1h0M866.6,1229.4h0M868.2,1223.9h0M869.7,1217.6h0M871.3,1211.9h0M872.8,1205.7h0M875,1204.8h0M877.2,1203h0M880.9,1205.7h0M883.2,1208.5h0M885.6,1211.6h0M887.8,1366.1h0M890.9,1368.4h0M894,1370.8h0M897.1,1373.6h0M900.2,1377.2h0M903.5,1379.4h0M906.8,1382.4h0M909.3,1385.2h0M911.9,1387.1h0M914.8,1388.1h0M917.7,1389.6h0M920.7,1389.7h0M923.6,1390h0M926.5,1390.1h0M930.1,1389.7h0M933.8,1390.5h0M937.5,1390.2h0M941.1,1390h0M944.8,1389.8h0M948.4,1390h0M952,1389.6h0M955.7,1390.2h0M959.4,1390.4h0M963,1390.1h0M966.6,1390.4h0M970.3,1390.1h0M974,1390.5h0M977.6,1390.4h0M981.2,1389.7h0M984.9,1390.2h0M988.5,1390.5h0M992.2,1389.8h0M995.9,1390.3h0M999.5,1390.4h0M1003.1,1390.3h0M1006.8,1390.5h0M1010.5,1390.6h0M1014.1,1390h0M1017.8,1390.5h0M1021.4,1390.1h0M1025,1389.6h0M1028.7,1390.2h0M1032.3,1390.2h0M1036,1390.1h0M1039.7,1390h0M1043.3,1390.3h0M1047,1390.4h0M1050.6,1389.8h0M1054.2,1390.3h0M1057.9,1389.9h0M1061.5,1389.6h0M1065.2,1389.6h0M1068.8,1389.9h0M1072.5,1390.4h0M1076.2,1390.2h0M1079.8,1389.6h0M1083.5,1390.1h0M1087.1,1390h0M1090.8,1389.6h0M1094.4,1390.3h0M1098,1389.8h0M1101.7,1390.3h0M1105.3,1389.5h0M1109,1389.5h0M1112.7,1389.6h0M1116.3,1390.1h0M1120,1389.8h0M1123.6,1389.8h0M1127.2,1390.2h0M1130.9,1390h0M1134.5,1389.8h0M1138.2,1389.6h0M1141.8,1390.2h0M1145.5,1389.8h0M1149.2,1389.4h0M1152.8,1390.2h0M1156.5,1389.7h0M1160.1,1389.9h0M1163.8,1389.8h0M1167.4,1389.9h0M1171,1389.6h0M1174.7,1389.9h0M1178.3,1389.7h0M1182,1390.1h0M1185.7,1389.6h0M1189.3,1390.3h0M1193,1389.9h0M1196.6,1389.9h0M1200.2,1390.1h0M1203.9,1390h0M1207.5,1389.4h0M1211.2,1390h0M1214.8,1389.5h0M1218.5,1389.8h0M1222.2,1389.9h0M1225.8,1390.2h0M1229.5,1389.5h0M1233.1,1389.5h0M1236.8,1389.7h0M1240.4,1389.4h0M1244,1389.7h0M1247.7,1389.6h0M1251.3,1389.8h0M1255,1389.8h0M1258.7,1389.6h0M1262.3,1389.8h0M1266,1390.1h0M1269.6,1389.4h0M1273.2,1390h0M1276.9,1389.3h0M1280.5,1390.1h0M1284.2,1389.4h0M1287.8,1389.5h0M1291.5,1389.7h0M1295.2,1390.1h0M1298.8,1389.6h0M1302,1388.7h0M1305.2,1387.9h0M1308.4,1387.9h0M1311.6,1386.4h0M1314.9,1386.1h0M1318.2,1386.3h0M1321.6,1387.7h0M1324.9,1387.9h0M1328.3,1388.6h0M1331.7,1389.3h0M1335.3,1389.7h0M1339,1389.6h0M1342.6,1389h0M1346.2,1389.7h0M1349.9,1389.6h0M1353.5,1389.4h0M1357.2,1389.9h0M1360.8,1389.2h0M1364.5,1389.7h0M1368.2,1389.8h0M1371.8,1390h0M1375.5,1389.3h0M1379.1,1390.3h0M1382.8,1390h0M1386.4,1389.7h0M1390,1389.8h0M1393.7,1390.4h0M1397.3,1390.1h0M1401,1390.1h0M1404.7,1390.2h0M1408.3,1389.8h0M1412,1390.4h0M1415.6,1389.9h0M1419.2,1390.4h0M1422.9,1389.6h0M1426.5,1389.7h0M1430.2,1390h0M1433.8,1389.9h0M1437.5,1390h0M1441.2,1390.1h0M1444.8,1390.2h0M1448.5,1389.9h0M1452.1,1389.9h0M1455.8,1390.3h0M1459.4,1390.3h0M1463,1390h0M1466.7,1390.3h0M1470.3,1390h0M1474,1389.8h0M1477.7,1389.3h0M1481.3,1389.6h0M1485,1389.3h0M1488.6,1389.4h0M1492.2,1389.9h0M1495.9,1389.7h0M1499.5,1389.8h0M1503.2,1389.3h0M1506.4,1389.1h0M1509.6,1388.7h0M1512.8,1387.9h0M1516,1387.4h0M1519.2,1387.7h0M1522.4,1388.7h0M1525.6,1388.7h0M1528.8,1389.6h0M1532.3,1389h0M1535.8,1388.6h0M1539.3,1388.3h0M1542.4,1384.2h0M1545.5,1380.7h0M1548.6,1376.8h0M1551.7,1372.8h0M1554.8,1365.9h0M1558,1358.7h0M1560,1352.7h0M1562,1345.7h0M1564,1339.7h0M1566,1333.3h0M1566.9,1325.5h0M1567.8,1318.2h0M1568.7,1310.2h0M1569.6,1303h0M1572,1301.6h0M1574.4,1299.5h0M1578,1294.6h0M1579.8,1289h0M1581.7,1283.2h0M1583.5,1276.7h0M1585.3,1270.7h0M1587.2,1264.9h0M1588.9,1258.8h0M1590.7,1253.3h0M1592.4,1247.4h0M1593.7,1242.2h0M1595,1236.4h0M1596.3,1230.4h0M1599,1225.4h0M1601.8,1219.5h0M1604.5,1220.4h0M1607.2,1221.7h0M1609.5,1224.5h0M1611.8,1227.9h0M1612.9,1234.1h0M1615.1,1240.3h0M1616.2,1246.4h0M1618,1261.2h0M1619.1,1268.6h0M1622.4,1279.8h0M1623.5,1285.9h0M1625.3,1299.5h0M1626.4,1305.7h0M1627.7,1388.3h0M1631,1389.8h0M1634.6,1390.1h0M1638.2,1389.6h0M1641.8,1388.5h0M1645.3,1388.2h0M1648.8,1387h0M1652.3,1386.9h0M1655.8,1385.6h0M1658.8,1385.9h0M1661.9,1386.8h0M1665,1387.9h0M1668,1388.5h0M1671.1,1389.3h0M1674.8,1389.4h0M1678.4,1388.7h0M1682,1388.4h0M1685.7,1388.3h0M1689.3,1389.2h0M1693,1389h0M1696.7,1389.2h0M1700.3,1390.1h0M1703.8,1390h0M1707.4,1389.9h0M1710.9,1389.7h0M1714.4,1390.6h0M1717.9,1389.9h0M1721.5,1390.2h0M1725,1389.9h0M1728.5,1389.9h0M1732.1,1389.8h0M1735.6,1390.4h0M1739.1,1390.6h0M1742.6,1390.1h0"/>
</g>
<g stroke="#ff0000" shape-rendering="crispEdges">
<polyline class="ln" stroke-width="7" points="160,1390.1 163.7,1390.1 167.3,1389.6 170.9,1389.6 174.6,1389.6 178.2,1390.2 181.9,1390.4 185.6,1390.3 189.2,1390.1 192.8,1389.6 196.5,1390 200.2,1389.8 203.8,1389.6 207.4,1389.6 211.1,1390.5 214.8,1389.9 218.4,1389.8 222.1,1390.4 225.7,1390 229.3,1389.7 233,1390.1 236.7,1390.2 240.3,1390 243.9,1389.8 247.6,1389.7 251.2,1389.7 254.9,1389.9 258.6,1389.6 262.2,1390.3 265.9,1390.4 269.5,1389.8 273.1,1390 276.8,1389.8 280.4,1390.2 284.1,1389.6 287.8,1390.5 291.4,1390.1 295.1,1390.5 298.7,1390 302.4,1389.7 306,1390.1 309.6,1390.1 313.3,1389.6 316.9,1389.6 320.6,1390.2 324.2,1390.1 327.9,1390 331.6,1389.8 335.2,1390.1 338.9,1390.2 342.5,1390.4 346.1,1390.1 349.8,1390.5 353.4,1389.9 357.1,1389.7 360.8,1390.4 364.4,1389.8 368.1,1389.8 371.7,1390.1 375.4,1390 379,1389.3 382.6,1388.7 386.3,1388.3 389.9,1388 393.6,1387.9 397.2,1388.8 400.9,1388 404.6,1388.1 408.2,1388.3 411.9,1388.8 415.5,1389.5 419.1,1389.2 422.8,1389.8 426.4,1389.4 430.1,1390 433.8,1390.2 437.4,1389.5 441.1,1389.4 444.7,1390 448.4,1389.8 452,1389.8 455.6,1390 459.3,1389.6 462.6,1388.8 465.9,1388.8 469.2,1388 472.4,1387.5 475.7,1386.5 479,1386.4 482.3,1387.3 485.6,1387.5 488.9,1388.2 492.1,1389.3 495.8,1389.3 499.4,1388.9 503.1,1388.3 506.8,1388.3 510.4,1388.4 514,1389.1 517.7,1388.8 521.4,1389.3 525,1389.6 528.6,1389.1 532.3,1389.7 536,1389.3 539.6,1389.6 543.2,1389.3 546.9,1389.8 550.5,1390.1 554.2,1389.7 557.9,1389.9 561.5,1389.8 565.1,1389.5 568.8,1389.7 572.5,1389.7 576.1,1389.5 579.8,1389.4 583.4,1389.4 587,1390.1 590.7,1389.3 594.4,1390.2 598,1389.8 601.5,1389.9 604.9,1389.2 608.4,1389.4 611.9,1389.2 615.3,1388.7 618.8,1388.3 621.9,1388.9 625.1,1388.5 628.2,1388.8 631.4,1389.8 634.5,1389.6 637.9,1389.1 641.2,1389 644.6,1389.5 647.9,1388.7 651.3,1388.8 654.6,1389.5 657.9,1389.7 661.1,1389.2 664.4,1389.5 667.7,1390.2 671,1390.1 674.6,1389.9 678.3,1390.3 682,1390.3 685.6,1390.5 689.2,1390.4 692.9,1389.6 696.5,1390.5 700.2,1390.4 703.9,1390.4 707.5,1390.1 711.1,1390.6 714.8,1390 718.5,1390 722.1,1389.8 725.8,1389.6 729.4,1389.8 733,1389.7 736.7,1390.5 740.4,1389.9 744,1390.1 747.6,1390 751.3,1390 755,1390.1 758.6,1390 762.2,1389.8 765.9,1390.4 769.5,1390.5 773.2,1390.3 776.9,1390.3 780.5,1390.2 784.1,1390.4 787.8,1389.6 791.5,1390.3 795.1,1390.4 798.8,1389.6 802.4,1390.1 805.3,1390 808.2,1389.6 811.7,1386.7 815.2,1383.4 818.5,1378.4 821.7,1373 825.3,1367.3 828.8,1360.9 832.3,1354.8 834.7,1347.9 837,1340.9 839.3,1333.8 841.7,1325.8 844,1319 846.6,1314.8 849.1,1310 851.7,1305.7 854.6,1302 857,1303.9 859.3,1305.7 860.8,1298.6 862.3,1292.1 864.4,1284.9 866.5,1277.1 868.6,1269.1 870.7,1261.7 873.9,1254.5 877.2,1247.7 879.8,1242.3 882.3,1237.8 883.1,1358.5 885.6,1361 888.2,1363.7 891.1,1367 894,1370.8 897.1,1373.6 900.2,1377.2 903.5,1379.4 906.8,1382.4 909.3,1385.2 911.9,1387.1 914.8,1388.1 917.7,1389.6 920.7,1389.7 923.6,1390 926.5,1390.1 930.1,1389.7 933.8,1390.5 937.5,1390.2 941.1,1390 944.8,1389.8 948.4,1390 952,1389.6 955.7,1390.2 959.4,1390.4 963,1390.1 966.6,1390.4 970.3,1390.1 974,1390.5 977.6,1390.4 981.2,1389.7 984.9,1390.2 988.5,1390.5 992.2,1389.8 995.9,1390.3 999.5,1390.4 1003.1,1390.3 1006.8,1390.5 1010.5,1390.6 1014.1,1390 1017.8,1390.5 1021.4,1390.1 1025,1389.6 1028.7,1390.2 1032.3,1390.2 1036,1390.1 1039.7,1390 1043.3,1390.3 1047,1390.4 1050.6,1389.8 1054.2,1390.3 1057.9,1389.9 1061.5,1389.6 1065.2,1389.6 1068.8,1389.9 1072.5,1390.4 1076.2,1390.2 1079.8,1389.6 1083.5,1390.1 1087.1,1390 1090.8,1389.6 1094.4,1390.3 1098,1389.8 1101.7,1390.3 1105.3,1389.5 1109,1389.5 1112.7,1389.6 1116.3,1390.1 1120,1389.8 1123.6,1389.8 1127.2,1390.2 1130.9,1390 1134.5,1389.8 1138.2,1389.6 1141.8,1390.2 1145.5,1389.8 1149.2,1389.4 1152.8,1390.2 1156.5,1389.7 1160.1,1389.9 1163.8,1389.8 1167.4,1389.9 1171,1389.6 1174.7,1389.9 1178.3,1389.7 1182,1390.1 1185.7,1389.6 1189.3,1390.3 1193,1389.9 1196.6,1389.9 1200.2,1390.1 1203.9,1390 1207.5,1389.4 1211.2,1390 1214.8,1389.5 1218.5,1389.8 1222.2,1389.9 1225.8,1390.2 1229.5,1389.5 1233.1,1389.5 1236.8,1389.7 1240.4,1389.4 1244,1389.7 1247.7,1389.6 1251.3,1389.8 1255,1389.8 1258.7,1389.6 1262.3,1389.8 1266,1390.1 1269.6,1389.4 1273.2,1390 1276.9,1389.3 1280.5,1390.1 1284.2,1389.4 1287.8,1389.5 1291.5,1389.7 1295.2,1390.1 1298.8,1389.6 1302,1388.7 1305.2,1387.9 1308.4,1387.9 1311.6,1386.4 1314.9,1386.1 1318.2,1386.3 1321.6,1387.7 1324.9,1387.9 1328.3,1388.6 1331.7,1389.3 1335.3,1389.7 1339,1389.6 1342.6,1389 1346.2,1389.7 1349.9,1389.6 1353.5,1389.4 1357.2,1389.9 1360.8,1389.2 1364.5,1389.7 1368.2,1389.8 1371.8,1390 1375.5,1389.3 1379.1,1390.3 1382.8,1390 1386.4,1389.7 1390,1389.8 1393.7,1390.4 1397.3,1390.1 1401,1390.1 1404.7,1390.2 1408.3,1389.8 1412,1390.4 1415.6,1389.9 1419.2,1390.4 1422.9,1389.6 1426.5,1389.7 1430.2,1390 1433.8,1389.9 1437.5,1390 1441.2,1390.1 1444.8,1390.2 1448.5,1389.9 1452.1,1389.9 1455.8,1390.3 1459.4,1390.3 1463,1390 1466.7,1390.3 1470.3,1390 1474,1389.8 1477.7,1389.3 1481.3,1389.6 1485,1389.3 1488.6,1389.4 1492.2,1389.9 1495.9,1389.7 1499.5,1389.8 1503.2,1389.3 1506.4,1389.1 1509.6,1388.7 1512.8,1387.9 1516,1387.4 1519.2,1387.7 1522.4,1388.7 1525.6,1388.7 1528.8,1389.6 1532.4,1389.4 1536,1389.8 1539.7,1388.9 1543.3,1387.7 1547,1387.1 1550.7,1385.3 1554.3,1383.2 1558,1382 1561.6,1379.7 1564.4,1376.9 1567.3,1374.8 1570.1,1372 1572.9,1369.1 1574.5,1374.5 1576.1,1379.1 1577.7,1384.6 1579.6,1379.6 1581.6,1373.6 1583.5,1368.6 1585.9,1363.4 1588.4,1358.7 1590.8,1353.8 1594.5,1352.6 1598.1,1351.3 1601.6,1350.6 1605,1349.4 1607.6,1347.8 1610.1,1346.4 1612.7,1345.2 1616.2,1342.8 1619.8,1340.4 1623.3,1337.8 1624.4,1389.6 1627.7,1390.2 1631,1389.8 1634.6,1390.1 1638.2,1389.6 1641.8,1388.5 1645.3,1388.2 1648.8,1387 1652.3,1386.9 1655.8,1385.6 1658.8,1385.9 1661.9,1386.8 1665,1387.9 1668,1388.5 1671.1,1389.3 1674.8,1389.4 1678.4,1388.7 1682,1388.4 1685.7,1388.3 1689.3,1389.2 1693,1389 1696.7,1389.2 1700.3,1390.1 1703.8,1390 1707.4,1389.9 1710.9,1389.7 1714.4,1390.6 1717.9,1389.9 1721.5,1390.2 1725,1389.9 1728.5,1389.9 1732.1,1389.8 1735.6,1390.4 1739.1,1390.6 1742.6,1390.1"/>
<path class="mk" stroke-width="18.4" d="M160,1390.1h0M163.7,1390.1h0M167.3,1389.6h0M170.9,1389.6h0M174.6,1389.6h0M178.2,1390.2h0M181.9,1390.4h0M185.6,1390.3h0M189.2,1390.1h0M192.8,1389.6h0M196.5,1390h0M200.2,1389.8h0M203.8,1389.6h0M207.4,1389.6h0M211.1,1390.5h0M214.8,1389.9h0M218.4,1389.8h0M222.1,1390.4h0M225.7,1390h0M229.3,1389.7h0M233,1390.1h0M236.7,1390.2h0M240.3,1390h0M243.9,1389.8h0M247.6,1389.7h0M251.2,1389.7h0M254.9,1389.9h0M258.6,1389.6h0M262.2,1390.3h0M265.9,1390.4h0M269.5,1389.8h0M273.1,1390h0M276.8,1389.8h0M280.4,1390.2h0M284.1,1389.6h0M287.8,1390.5h0M291.4,1390.1h0M295.1,1390.5h0M298.7,1390h0M302.4,1389.7h0M306,1390.1h0M309.6,1390.1h0M313.3,1389.6h0M316.9,1389.6h0M320.6,1390.2h0M324.2,1390.1h0M327.9,1390h0M331.6,1389.8h0M335.2,1390.1h0M338.9,1390.2h0M342.5,1390.4h0M346.1,1390.1h0M349.8,1390.5h0M353.4,1389.9h0M357.1,1389.7h0M360.8,1390.4h0M364.4,1389.8h0M368.1,1389.8h0M371.7,1390.1h0M375.4,1390h0M379,1389.3h0M382.6,1388.7h0M386.3,1388.3h0M389.9,1388h0M393.6,1387.9h0M397.2,1388.8h0M400.9,1388h0M404.6,1388.1h0M408.2,1388.3h0M411.9,1388.8h0M415.5,1389.5h0M419.1,1389.2h0M422.8,1389.8h0M426.4,1389.4h0M430.1,1390h0M433.8,1390.2h0M437.4,1389.5h0M441.1,1389.4h0M444.7,1390h0M448.4,1389.8h0M452,1389.8h0M455.6,1390h0M459.3,1389.6h0M462.6,1388.8h0M465.9,1388.8h0M469.2,1388h0M472.4,1387.5h0M475.7,1386.5h0M479,1386.4h0M482.3,1387.3h0M485.6,1387.5h0M488.9,1388.2h0M492.1,1389.3h0M495.8,1389.3h0M499.4,1388.9h0M503.1,1388.3h0M506.8,1388.3h0M510.4,1388.4h0M514,1389.1h0M517.7,1388.8h0M521.4,1389.3h0M525,1389.6h0M528.6,1389.1h0M532.3,1389.7h0M536,1389.3h0M539.6,1389.6h0M543.2,1389.3h0M546.9,1389.8h0M550.5,1390.1h0M554.2,1389.7h0M557.9,1389.9h0M561.5,1389.8h0M565.1,1389.5h0M568.8,1389.7h0M572.5,1389.7h0M576.1,1389.5h0M579.8,1389.4h0M583.4,1389.4h0M587,1390.1h0M590.7,1389.3h0M594.4,1390.2h0M598,1389.8h0M601.5,1389.9h0M604.9,1389.2h0M608.4,1389.4h0M611.9,1389.2h0M615.3,1388.7h0M618.8,1388.3h0M621.9,1388.9h0M625.1,1388.5h0M628.2,1388.8h0M631.4,1389.8h0M634.5,1389.6h0M637.9,1389.1h0M641.2,1389h0M644.6,1389.5h0M647.9,1388.7h0M651.3,1388.8h0M654.6,1389.5h0M657.9,1389.7h0M661.1,1389.2h0M664.4,1389.5h0M667.7,1390.2h0M671,1390.1h0M674.6,1389.9h0M678.3,1390.3h0M682,1390.3h0M685.6,1390.5h0M689.2,1390.4h0M692.9,1389.6h0M696.5,1390.5h0M700.2,1390.4h0M703.9,1390.4h0M707.5,1390.1h0M711.1,1390.6h0M714.8,1390h0M718.5,1390h0M722.1,1389.8h0M725.8,1389.6h0M729.4,1389.8h0M733,1389.7h0M736.7,1390.5h0M740.4,1389.9h0M744,1390.1h0M747.6,1390h0M751.3,1390h0M755,1390.1h0M758.6,1390h0M762.2,1389.8h0M765.9,1390.4h0M769.5,1390.5h0M773.2,1390.3h0M776.9,1390.3h0M780.5,1390.2h0M784.1,1390.4h0M787.8,1389.6h0M791.5,1390.3h0M795.1,1390.4h0M798.8,1389.6h0M802.4,1390.1h0M805.3,1390h0M808.2,1389.6h0M811.7,1386.7h0M815.2,1383.4h0M818.5,1378.4h0M821.7,1373h0M825.3,1367.3h0M828.8,1360.9h0M832.3,1354.8h0M834.7,1347.9h0M837,1340.9h0M839.3,1333.8h0M841.7,1325.8h0M844,1319h0M846.6,1314.8h0M849.1,1310h0M851.7,1305.7h0M854.6,1302h0M857,1303.9h0M859.3,1305.7h0M860.8,1298.6h0M862.3,1292.1h0M864.4,1284.9h0M866.5,1277.1h0M868.6,1269.1h0M870.7,1261.7h0M873.9,1254.5h0M877.2,1247.7h0M879.8,1242.3h0M882.3,1237.8h0M883.1,1358.5h0M885.6,1361h0M888.2,1363.7h0M891.1,1367h0M894,1370.8h0M897.1,1373.6h0M900.2,1377.2h0M903.5,1379.4h0M906.8,1382.4h0M909.3,1385.2h0M911.9,1387.1h0M914.8,1388.1h0M917.7,1389.6h0M920.7,1389.7h0M923.6,1390h0M926.5,1390.1h0M930.1,1389.7h0M933.8,1390.5h0M937.5,1390.2h0M941.1,1390h0M944.8,1389.8h0M948.4,1390h0M952,1389.6h0M955.7,1390.2h0M959.4,1390.4h0M963,1390.1h0M966.6,1390.4h0M970.3,1390.1h0M974,1390.5h0M977.6,1390.4h0M981.2,1389.7h0M984.9,1390.2h0M988.5,1390.5h0M992.2,1389.8h0M995.9,1390.3h0M999.5,1390.4h0M1003.1,1390.3h0M1006.8,1390.5h0M1010.5,1390.6h0M1014.1,1390h0M1017.8,1390.5h0M1021.4,1390.1h0M1025,1389.6h0M1028.7,1390.2h0M1032.3,1390.2h0M1036,1390.1h0M1039.7,1390h0M1043.3,1390.3h0M1047,1390.4h0M1050.6,1389.8h0M1054.2,1390.3h0M1057.9,1389.9h0M1061.5,1389.6h0M1065.2,1389.6h0M1068.8,1389.9h0M1072.5,1390.4h0M1076.2,1390.2h0M1079.8,1389.6h0M1083.5,1390.1h0M1087.1,1390h0M1090.8,1389.6h0M1094.4,1390.3h0M1098,1389.8h0M1101.7,1390.3h0M1105.3,1389.5h0M1109,1389.5h0M1112.7,1389.6h0M1116.3,1390.1h0M1120,1389.8h0M1123.6,1389.8h0M1127.2,1390.2h0M1130.9,1390h0M1134.5,1389.8h0M1138.2,1389.6h0M1141.8,1390.2h0M1145.5,1389.8h0M1149.2,1389.4h0M1152.8,1390.2h0M1156.5,1389.7h0M1160.1,1389.9h0M1163.8,1389.8h0M1167.4,1389.9h0M1171,1389.6h0M1174.7,1389.9h0M1178.3,1389.7h0M1182,1390.1h0M1185.7,1389.6h0M1189.3,1390.3h0M1193,1389.9h0M1196.6,1389.9h0M1200.2,1390.1h0M1203.9,1390h0M1207.5,1389.4h0M1211.2,1390h0M1214.8,1389.5h0M1218.5,1389.8h0M1222.2,1389.9h0M1225.8,1390.2h0M1229.5,1389.5h0M1233.1,1389.5h0M1236.8,1389.7h0M1240.4,1389.4h0M1244,1389.7h0M1247.7,1389.6h0M1251.3,1389.8h0M1255,1389.8h0M1258.7,1389.6h0M1262.3,1389.8h0M1266,1390.1h0M1269.6,1389.4h0M1273.2,1390h0M1276.9,1389.3h0M1280.5,1390.1h0M1284.2,1389.4h0M1287.8,1389.5h0M1291.5,1389.7h0M1295.2,1390.1h0M1298.8,1389.6h0M1302,1388.7h0M1305.2,1387.9h0M1308.4,1387.9h0M1311.6,1386.4h0M1314.9,1386.1h0M1318.2,1386.3h0M1321.6,1387.7h0M1324.9,1387.9h0M1328.3,1388.6h0M1331.7,1389.3h0M1335.3,1389.7h0M1339,1389.6h0M1342.6,1389h0M1346.2,1389.7h0M1349.9,1389.6h0M1353.5,1389.4h0M1357.2,1389.9h0M1360.8,1389.2h0M1364.5,1389.7h0M1368.2,1389.8h0M1371.8,1390h0M1375.5,1389.3h0M1379.1,1390.3h0M1382.8,1390h0M1386.4,1389.7h0M1390,1389.8h0M1393.7,1390.4h0M1397.3,1390.1h0M1401,1390.1h0M1404.7,1390.2h0M1408.3,1389.8h0M1412,1390.4h0M1415.6,1389.9h0M1419.2,1390.4h0M1422.9,1389.6h0M1426.5,1389.7h0M1430.2,1390h0M1433.8,1389.9h0M1437.5,1390h0M1441.2,1390.1h0M1444.8,1390.2h0M1448.5,1389.9h0M1452.1,1389.9h0M1455.8,1390.3h0M1459.4,1390.3h0M1463,1390h0M1466.7,1390.3h0M1470.3,1390h0M1474,1389.8h0M1477.7,1389.3h0M1481.3,1389.6h0M1485,1389.3h0M1488.6,1389.4h0M1492.2,1389.9h0M1495.9,1389.7h0M1499.5,1389.8h0M1503.2,1389.3h0M1506.4,1389.1h0M1509.6,1388.7h0M1512.8,1387.9h0M1516,1387.4h0M1519.2,1387.7h0M1522.4,1388.7h0M1525.6,1388.7h0M1528.8,1389.6h0M1532.4,1389.4h0M1536,1389.8h0M1539.7,1388.9h0M1543.3,1387.7h0M1547,1387.1h0M1550.7,1385.3h0M1554.3,1383.2h0M1558,1382h0M1561.6,1379.7h0M1564.4,1376.9h0M1567.3,1374.8h0M1570.1,1372h0M1572.9,1369.1h0M1574.5,1374.5h0M1576.1,1379.1h0M1577.7,1384.6h0M1579.6,1379.6h0M1581.6,1373.6h0M1583.5,1368.6h0M1585.9,1363.4h0M1588.4,1358.7h0M1590.8,1353.8h0M1594.5,1352.6h0M1598.1,1351.3h0M1601.6,1350.6h0M1605,1349.4h0M1607.6,1347.8h0M1610.1,1346.4h0M1612.7,1345.2h0M1616.2,1342.8h0M1619.8,1340.4h0M1623.3,1337.8h0M1624.4,1389.6h0M1627.7,1390.2h0M1631,1389.8h0M1634.6,1390.1h0M1638.2,1389.6h0M1641.8,1388.5h0M1645.3,1388.2h0M1648.8,1387h0M1652.3,1386.9h0M1655.8,1385.6h0M1658.8,1385.9h0M1661.9,1386.8h0M1665,1387.9h0M1668,1388.5h0M1671.1,1389.3h0M1674.8,1389.4h0M1678.4,1388.7h0M1682,1388.4h0M1685.7,1388.3h0M1689.3,1389.2h0M1693,1389h0M1696.7,1389.2h0M1700.3,1390.1h0M1703.8,1390h0M1707.4,1389.9h0M1710.9,1389.7h0M1714.4,1390.6h0M1717.9,1389.9h0M1721.5,1390.2h0M1725,1389.9h0M1728.5,1389.9h0M1732.1,1389.8h0M1735.6,1390.4h0M1739.1,1390.6h0M1742.6,1390.1h0"/>
</g>
</g>
</g>
<text class="lb" x="979.5" y="1543" text-anchor="middle" textLength="194" lengthAdjust="spacingAndGlyphs">Time(s)</text>
<text class="lb" transform="translate(79.9,390.4) rotate(-90)" text-anchor="middle" textLength="197" lengthAdjust="spacingAndGlyphs">East(m)</text>
<text class="lb" transform="translate(55.2,1146) rotate(-90)" text-anchor="middle" textLength="243" lengthAdjust="spacingAndGlyphs">North(m)</text>
<g id="legend">
<rect x="267" y="13" width="1411" height="99" fill="#ffffff"/>
<path class="ax" d="M267,13H1678V16H267ZM267,109H1678V112H267ZM267,13H270V112H267ZM1674,13H1678V112H1674Z"/>
<line x1="284.1" y1="62.5" x2="435.9" y2="62.5" stroke="#0000ff" stroke-width="7"/><circle cx="359.2" cy="62.5" r="8.8" fill="#0000ff"/><text class="lg" x="448" y="75" textLength="106" lengthAdjust="spacingAndGlyphs">EKF</text>
<line x1="587.2" y1="62.5" x2="738.6" y2="62.5" stroke="#00ff00" stroke-width="7"/><circle cx="662.1" cy="62.5" r="8.8" fill="#00ff00"/><text class="lg" x="748.5" y="75" textLength="186.5" lengthAdjust="spacingAndGlyphs">OFFAF</text>
<line x1="969.1" y1="62.5" x2="1120.8" y2="62.5" stroke="#ff0000" stroke-width="7"/><circle cx="1044.2" cy="62.5" r="8.8" fill="#ff0000"/><text class="lg" x="1130" y="75" textLength="528" lengthAdjust="spacingAndGlyphs">Proposed Algorithm</text>
</g>
</svg>
</body>
</html>
